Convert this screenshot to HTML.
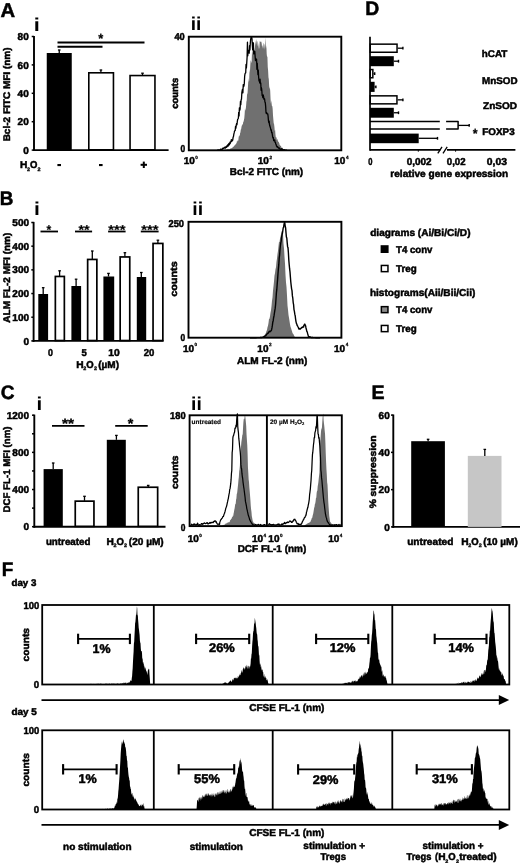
<!DOCTYPE html>
<html><head><meta charset="utf-8"><style>
html,body{margin:0;padding:0;background:#fff;width:520px;height:863px;overflow:hidden}
svg{display:block;will-change:transform}
text{font-family:"Liberation Sans", sans-serif;font-weight:bold;text-rendering:geometricPrecision}
</style></head><body>
<svg width="520" height="863" viewBox="0 0 520 863">
<rect width="520" height="863" fill="#fff"/>
<text x="0.50" y="16.60" font-size="20" textLength="14.64" lengthAdjust="spacingAndGlyphs" fill="#000" stroke="#000" stroke-width="0.5">A</text>
<text x="33.77" y="31.30" font-size="18.5" textLength="6.07" lengthAdjust="spacingAndGlyphs" fill="#000">i</text>
<line x1="34.00" y1="35.90" x2="34.00" y2="151.05" stroke="#000" stroke-width="1.9"/>
<line x1="33.05" y1="150.10" x2="168.60" y2="150.10" stroke="#000" stroke-width="1.9"/>
<line x1="31.70" y1="150.10" x2="34.00" y2="150.10" stroke="#000" stroke-width="1.5"/>
<text x="23.15" y="153.70" font-size="10" textLength="5.56" lengthAdjust="spacingAndGlyphs" fill="#000" stroke="#000" stroke-width="0.5">0</text>
<line x1="31.70" y1="121.70" x2="34.00" y2="121.70" stroke="#000" stroke-width="1.5"/>
<text x="17.59" y="125.30" font-size="10" textLength="11.12" lengthAdjust="spacingAndGlyphs" fill="#000" stroke="#000" stroke-width="0.5">20</text>
<line x1="31.70" y1="93.30" x2="34.00" y2="93.30" stroke="#000" stroke-width="1.5"/>
<text x="17.59" y="96.90" font-size="10" textLength="11.12" lengthAdjust="spacingAndGlyphs" fill="#000" stroke="#000" stroke-width="0.5">40</text>
<line x1="31.70" y1="64.90" x2="34.00" y2="64.90" stroke="#000" stroke-width="1.5"/>
<text x="17.59" y="68.50" font-size="10" textLength="11.12" lengthAdjust="spacingAndGlyphs" fill="#000" stroke="#000" stroke-width="0.5">60</text>
<line x1="31.70" y1="36.50" x2="34.00" y2="36.50" stroke="#000" stroke-width="1.5"/>
<text x="17.59" y="40.10" font-size="10" textLength="11.12" lengthAdjust="spacingAndGlyphs" fill="#000" stroke="#000" stroke-width="0.5">80</text>
<text x="0" y="0" font-size="9.6" textLength="93.97" lengthAdjust="spacingAndGlyphs" transform="translate(9.90 141.37) rotate(-90)" fill="#000" stroke="#000" stroke-width="0.5">Bcl-2 FITC MFI (nm)</text>
<rect x="46.75" y="53.00" width="25.00" height="97.10" fill="#000"/>
<rect x="88.80" y="72.80" width="24.65" height="77.00" fill="#fff" stroke="#000" stroke-width="1.6"/>
<rect x="130.05" y="75.55" width="24.90" height="74.25" fill="#fff" stroke="#000" stroke-width="1.6"/>
<line x1="59.25" y1="53.00" x2="59.25" y2="50.00" stroke="#000" stroke-width="1.3"/>
<line x1="57.95" y1="50.00" x2="60.55" y2="50.00" stroke="#000" stroke-width="1.3"/>
<line x1="100.90" y1="72.50" x2="100.90" y2="70.00" stroke="#000" stroke-width="1.3"/>
<line x1="99.60" y1="70.00" x2="102.20" y2="70.00" stroke="#000" stroke-width="1.3"/>
<line x1="142.50" y1="75.00" x2="142.50" y2="73.20" stroke="#000" stroke-width="1.3"/>
<line x1="141.20" y1="73.20" x2="143.80" y2="73.20" stroke="#000" stroke-width="1.3"/>
<line x1="57.50" y1="42.50" x2="144.50" y2="42.50" stroke="#000" stroke-width="1.8"/>
<line x1="57.50" y1="46.75" x2="102.50" y2="46.75" stroke="#000" stroke-width="1.8"/>
<text x="98.26" y="43.00" font-size="13.4" textLength="5.05" lengthAdjust="spacingAndGlyphs" fill="#000" stroke="#000" stroke-width="0.2">*</text>
<text x="19.92" y="168.30" font-size="10" textLength="7.37" lengthAdjust="spacingAndGlyphs" fill="#000" stroke="#000" stroke-width="0.5">H</text>
<text x="26.91" y="170.60" font-size="5.0" textLength="3.00" lengthAdjust="spacingAndGlyphs" fill="#000" stroke="#000" stroke-width="0.3">2</text>
<text x="29.91" y="168.30" font-size="10" textLength="7.39" lengthAdjust="spacingAndGlyphs" fill="#000" stroke="#000" stroke-width="0.5">O</text>
<text x="37.51" y="170.60" font-size="5.0" textLength="3.00" lengthAdjust="spacingAndGlyphs" fill="#000" stroke="#000" stroke-width="0.3">2</text>
<rect x="57.40" y="164.00" width="3.60" height="2.10" fill="#000"/>
<rect x="99.00" y="164.00" width="3.60" height="2.10" fill="#000"/>
<rect x="140.60" y="163.80" width="6.40" height="2.00" fill="#000"/>
<rect x="142.80" y="161.60" width="2.00" height="6.40" fill="#000"/>
<text x="190.77" y="29.70" font-size="18.5" textLength="10.58" lengthAdjust="spacingAndGlyphs" fill="#000">ii</text>
<text x="174.46" y="40.30" font-size="10" textLength="10.32" lengthAdjust="spacingAndGlyphs" fill="#000" stroke="#000" stroke-width="0.5">40</text>
<text x="180.57" y="152.30" font-size="10" textLength="4.68" lengthAdjust="spacingAndGlyphs" fill="#000" stroke="#000" stroke-width="0.5">0</text>
<text x="0" y="0" font-size="9.6" textLength="31.06" lengthAdjust="spacingAndGlyphs" transform="translate(177.60 108.77) rotate(-90)" fill="#000" stroke="#000" stroke-width="0.5">counts</text>
<path d="M224.00,150.30 L224.00,150.30 L224.35,150.23 L224.70,150.16 L225.05,150.09 L225.40,150.01 L225.75,149.78 L226.10,149.90 L226.45,149.70 L226.80,149.81 L227.15,149.77 L227.50,149.20 L227.85,149.06 L228.20,149.78 L228.55,149.13 L228.90,149.02 L229.25,149.78 L229.60,149.04 L229.95,149.30 L230.30,148.62 L230.65,148.65 L231.00,147.70 L231.35,148.24 L231.70,148.43 L232.05,147.64 L232.40,147.83 L232.75,147.50 L233.10,146.12 L233.45,147.27 L233.80,146.73 L234.15,145.91 L234.50,144.70 L234.85,146.02 L235.20,144.44 L235.55,144.47 L235.90,144.33 L236.25,143.26 L236.60,143.29 L236.95,141.04 L237.30,141.74 L237.65,139.93 L238.00,141.02 L238.35,140.23 L238.70,136.75 L239.05,136.11 L239.40,134.96 L239.75,136.66 L240.10,133.02 L240.45,132.48 L240.80,129.56 L241.15,129.14 L241.50,127.12 L241.85,125.52 L242.20,125.36 L242.55,123.97 L242.90,124.39 L243.25,121.76 L243.60,121.85 L243.95,119.68 L244.30,118.28 L244.65,113.96 L245.00,108.25 L245.35,110.68 L245.70,109.16 L246.05,106.48 L246.40,101.71 L246.75,100.36 L247.10,93.08 L247.45,94.70 L247.80,89.26 L248.15,83.43 L248.50,78.07 L248.85,81.94 L249.20,80.34 L249.55,69.06 L249.90,72.87 L250.25,66.21 L250.60,60.95 L250.95,60.24 L251.30,62.92 L251.65,61.92 L252.00,51.28 L252.35,55.10 L252.70,46.98 L253.05,52.23 L253.40,47.39 L253.75,52.60 L254.10,52.99 L254.45,47.16 L254.80,51.82 L255.15,43.62 L255.50,40.37 L255.85,45.40 L256.20,39.05 L256.55,41.23 L256.90,43.89 L257.25,46.46 L257.60,41.85 L257.95,40.96 L258.30,49.42 L258.65,42.66 L259.00,49.04 L259.35,47.68 L259.70,41.25 L260.05,41.46 L260.40,41.42 L260.75,42.11 L261.10,41.42 L261.45,42.23 L261.80,44.13 L262.15,48.87 L262.50,45.33 L262.85,45.73 L263.20,49.04 L263.55,43.19 L263.90,43.26 L264.25,50.06 L264.60,44.45 L264.95,44.14 L265.30,37.60 L265.65,44.54 L266.00,48.80 L266.35,45.30 L266.70,54.10 L267.05,57.09 L267.40,56.27 L267.75,66.96 L268.10,70.39 L268.45,77.37 L268.80,79.18 L269.15,85.74 L269.50,89.40 L269.85,86.90 L270.20,90.77 L270.55,99.08 L270.90,103.71 L271.25,100.13 L271.60,103.43 L271.95,106.18 L272.30,106.03 L272.65,108.85 L273.00,115.40 L273.35,119.45 L273.70,123.15 L274.05,123.94 L274.40,126.79 L274.75,131.02 L275.10,129.78 L275.45,134.48 L275.80,137.35 L276.15,137.26 L276.50,137.58 L276.85,140.30 L277.20,138.95 L277.55,139.43 L277.90,140.89 L278.25,142.35 L278.60,141.16 L278.95,142.47 L279.30,143.15 L279.65,145.12 L280.00,144.71 L280.35,146.33 L280.70,145.40 L281.05,146.24 L281.40,147.25 L281.75,148.05 L282.10,147.65 L282.45,147.69 L282.80,147.97 L283.15,148.93 L283.50,148.95 L283.85,149.84 L284.20,149.96 L284.55,149.56 L284.90,149.77 L285.25,150.04 L285.60,150.16 L285.95,150.28 L285.95,150.30 Z" fill="#707070" />
<path d="M217.00,150.30 L217.35,150.23 L217.70,150.16 L218.05,150.09 L218.40,150.02 L218.75,150.02 L219.10,150.04 L219.45,150.02 L219.80,150.07 L220.15,149.86 L220.50,149.95 L220.85,149.03 L221.20,149.29 L221.55,149.65 L221.90,149.21 L222.25,149.37 L222.60,148.28 L222.95,148.58 L223.30,148.14 L223.65,148.40 L224.00,148.31 L224.35,147.27 L224.70,147.37 L225.05,147.27 L225.40,148.14 L225.75,147.71 L226.10,146.45 L226.45,147.42 L226.80,145.99 L227.15,146.72 L227.50,145.55 L227.85,144.72 L228.20,146.10 L228.55,144.06 L228.90,143.52 L229.25,144.94 L229.60,144.18 L229.95,142.09 L230.30,143.47 L230.65,141.74 L231.00,141.65 L231.35,139.67 L231.70,141.48 L232.05,140.18 L232.40,140.60 L232.75,139.87 L233.10,137.29 L233.45,136.60 L233.80,134.42 L234.15,132.88 L234.50,131.09 L234.85,130.64 L235.20,130.56 L235.55,126.39 L235.90,128.15 L236.25,125.10 L236.60,123.53 L236.95,124.76 L237.30,121.60 L237.65,119.29 L238.00,118.79 L238.35,118.22 L238.70,112.36 L239.05,115.85 L239.40,107.90 L239.75,110.46 L240.10,109.08 L240.45,101.50 L240.80,104.69 L241.15,99.72 L241.50,99.10 L241.85,92.61 L242.20,90.50 L242.55,89.14 L242.90,92.82 L243.25,84.54 L243.60,86.71 L243.95,85.86 L244.30,83.71 L244.65,76.29 L245.00,73.97 L245.35,73.06 L245.70,72.92 L246.05,64.51 L246.40,67.97 L246.75,63.07 L247.10,57.14 L247.45,42.24 L247.80,55.83 L248.15,50.24 L248.50,50.93 L248.85,51.86 L249.20,53.21 L249.55,45.63 L249.90,49.84 L250.25,44.09 L250.60,39.75 L250.95,37.85 L251.30,37.02 L251.65,37.05 L252.00,38.85 L252.35,45.50 L252.70,49.90 L253.05,42.75 L253.40,43.02 L253.75,53.90 L254.10,50.83 L254.45,51.32 L254.80,51.42 L255.15,56.66 L255.50,60.64 L255.85,58.83 L256.20,60.46 L256.55,59.16 L256.90,69.23 L257.25,63.25 L257.60,69.54 L257.95,74.70 L258.30,70.26 L258.65,77.26 L259.00,80.85 L259.35,79.85 L259.70,82.91 L260.05,79.03 L260.40,83.51 L260.75,82.99 L261.10,90.31 L261.45,87.75 L261.80,90.23 L262.15,95.57 L262.50,95.58 L262.85,97.64 L263.20,94.88 L263.55,96.30 L263.90,99.21 L264.25,98.55 L264.60,99.00 L264.95,102.06 L265.30,102.58 L265.65,106.39 L266.00,112.34 L266.35,113.52 L266.70,112.82 L267.05,113.44 L267.40,113.90 L267.75,113.88 L268.10,116.39 L268.45,120.68 L268.80,122.51 L269.15,121.16 L269.50,124.79 L269.85,126.09 L270.20,127.06 L270.55,128.28 L270.90,130.10 L271.25,129.69 L271.60,132.58 L271.95,132.19 L272.30,134.44 L272.65,136.92 L273.00,137.99 L273.35,137.55 L273.70,140.55 L274.05,140.33 L274.40,140.89 L274.75,139.98 L275.10,142.36 L275.45,142.35 L275.80,144.25 L276.15,144.51 L276.50,146.10 L276.85,146.49 L277.20,147.10 L277.55,146.50 L277.90,147.30 L278.25,147.71 L278.60,148.10 L278.95,147.58 L279.30,148.59 L279.65,148.86 L280.00,148.85 L280.35,149.32 L280.70,149.39 L281.05,148.98 L281.40,149.11 L281.75,148.85 L282.10,149.65 L282.45,149.85 L282.80,149.54 L283.15,149.83 L283.50,149.96 L283.85,150.00 L284.20,149.69 L284.55,150.12 L284.90,150.00 L285.25,150.05 L285.60,150.10 L285.95,150.15 L286.30,150.20 L286.65,150.25 L287.00,150.30" fill="none" stroke="#000" stroke-width="1.3" stroke-linejoin="round" />
<rect x="188.80" y="36.70" width="152.50" height="113.60" fill="none" stroke="#000" stroke-width="1.9"/>
<text x="183.67" y="164.00" font-size="10" stroke="#000" stroke-width="0.5">10<tspan font-size="4.6" dx="0.5" dy="-5.40" stroke-width="0.25">0</tspan></text>
<text x="257.77" y="164.00" font-size="10" stroke="#000" stroke-width="0.5">10<tspan font-size="4.6" dx="0.5" dy="-5.40" stroke-width="0.25">2</tspan></text>
<text x="334.27" y="164.00" font-size="10" stroke="#000" stroke-width="0.5">10<tspan font-size="4.6" dx="0.5" dy="-5.40" stroke-width="0.25">4</tspan></text>
<text x="229.73" y="174.60" font-size="10" textLength="73.46" lengthAdjust="spacingAndGlyphs" fill="#000" stroke="#000" stroke-width="0.5">Bcl-2 FITC (nm)</text>
<text x="365.20" y="14.80" font-size="19.5" textLength="14.01" lengthAdjust="spacingAndGlyphs" fill="#000" stroke="#000" stroke-width="0.5">D</text>
<line x1="370.00" y1="36.70" x2="370.00" y2="150.80" stroke="#000" stroke-width="1.7"/>
<line x1="370.00" y1="149.90" x2="440.50" y2="149.90" stroke="#000" stroke-width="1.8"/>
<line x1="447.00" y1="149.90" x2="515.40" y2="149.90" stroke="#000" stroke-width="1.8"/>
<line x1="437.80" y1="153.30" x2="442.00" y2="146.80" stroke="#000" stroke-width="1.3"/>
<line x1="443.00" y1="153.30" x2="447.20" y2="146.80" stroke="#000" stroke-width="1.3"/>
<line x1="418.30" y1="149.90" x2="418.30" y2="151.70" stroke="#000" stroke-width="1.0"/>
<line x1="455.60" y1="149.90" x2="455.60" y2="151.70" stroke="#000" stroke-width="1.0"/>
<rect x="370.25" y="44.15" width="26.80" height="8.10" fill="#fff" stroke="#000" stroke-width="1.5"/>
<line x1="397.80" y1="48.20" x2="403.00" y2="48.20" stroke="#000" stroke-width="1.3"/>
<line x1="402.90" y1="46.80" x2="402.90" y2="49.60" stroke="#000" stroke-width="1.4"/>
<rect x="370.00" y="56.20" width="23.80" height="10.00" fill="#000"/>
<line x1="393.80" y1="61.20" x2="398.60" y2="61.20" stroke="#000" stroke-width="1.3"/>
<line x1="398.50" y1="59.80" x2="398.50" y2="62.60" stroke="#000" stroke-width="1.4"/>
<rect x="370.25" y="69.55" width="2.60" height="8.20" fill="#fff" stroke="#000" stroke-width="1.5"/>
<line x1="373.60" y1="73.65" x2="374.80" y2="73.65" stroke="#000" stroke-width="1.3"/>
<line x1="374.70" y1="72.25" x2="374.70" y2="75.05" stroke="#000" stroke-width="1.4"/>
<rect x="370.00" y="81.80" width="4.60" height="10.10" fill="#000"/>
<line x1="374.60" y1="86.85" x2="376.00" y2="86.85" stroke="#000" stroke-width="1.3"/>
<line x1="375.90" y1="85.45" x2="375.90" y2="88.25" stroke="#000" stroke-width="1.4"/>
<rect x="370.25" y="95.85" width="26.70" height="8.00" fill="#fff" stroke="#000" stroke-width="1.5"/>
<line x1="397.70" y1="99.85" x2="403.00" y2="99.85" stroke="#000" stroke-width="1.3"/>
<line x1="402.90" y1="98.45" x2="402.90" y2="101.25" stroke="#000" stroke-width="1.4"/>
<rect x="370.00" y="107.80" width="23.80" height="9.90" fill="#000"/>
<line x1="393.80" y1="112.75" x2="398.60" y2="112.75" stroke="#000" stroke-width="1.3"/>
<line x1="398.50" y1="111.35" x2="398.50" y2="114.15" stroke="#000" stroke-width="1.4"/>
<path d="M370.0,121.6 L439.8,121.6 M370.0,129.1 L439.8,129.1 M446.1,121.6 L458.1,121.6 L458.1,129.1 L446.1,129.1" fill="none" stroke="#000" stroke-width="1.5" stroke-linejoin="round" />
<line x1="458.10" y1="125.40" x2="469.30" y2="125.40" stroke="#000" stroke-width="1.3"/>
<line x1="469.20" y1="124.00" x2="469.20" y2="126.80" stroke="#000" stroke-width="1.4"/>
<rect x="370.00" y="133.60" width="48.70" height="9.60" fill="#000"/>
<line x1="418.70" y1="138.30" x2="437.60" y2="138.30" stroke="#000" stroke-width="1.3"/>
<line x1="437.50" y1="136.90" x2="437.50" y2="139.70" stroke="#000" stroke-width="1.4"/>
<text x="481.83" y="57.20" font-size="9.7" textLength="25.57" lengthAdjust="spacingAndGlyphs" fill="#000" stroke="#000" stroke-width="0.5">hCAT</text>
<text x="482.14" y="83.50" font-size="9.7" textLength="35.47" lengthAdjust="spacingAndGlyphs" fill="#000" stroke="#000" stroke-width="0.5">MnSOD</text>
<text x="483.00" y="109.20" font-size="9.7" textLength="34.02" lengthAdjust="spacingAndGlyphs" fill="#000" stroke="#000" stroke-width="0.5">ZnSOD</text>
<text x="482.34" y="134.70" font-size="9.7" textLength="32.32" lengthAdjust="spacingAndGlyphs" fill="#000" stroke="#000" stroke-width="0.5">FOXP3</text>
<text x="472.76" y="137.50" font-size="13.4" textLength="4.85" lengthAdjust="spacingAndGlyphs" fill="#000" stroke="#000" stroke-width="0.2">*</text>
<text x="368.20" y="164.80" font-size="10" textLength="4.21" lengthAdjust="spacingAndGlyphs" fill="#000" stroke="#000" stroke-width="0.5">0</text>
<text x="406.71" y="164.80" font-size="10" textLength="24.89" lengthAdjust="spacingAndGlyphs" fill="#000" stroke="#000" stroke-width="0.5">0,002</text>
<text x="446.82" y="164.80" font-size="10" textLength="18.77" lengthAdjust="spacingAndGlyphs" fill="#000" stroke="#000" stroke-width="0.5">0,02</text>
<text x="486.79" y="164.80" font-size="10" textLength="20.18" lengthAdjust="spacingAndGlyphs" fill="#000" stroke="#000" stroke-width="0.5">0,03</text>
<text x="390.33" y="176.70" font-size="10" textLength="117.79" lengthAdjust="spacingAndGlyphs" fill="#000" stroke="#000" stroke-width="0.5">relative gene expression</text>
<text x="-0.26" y="204.50" font-size="19.5" textLength="13.62" lengthAdjust="spacingAndGlyphs" fill="#000" stroke="#000" stroke-width="0.5">B</text>
<text x="34.02" y="215.40" font-size="18.5" textLength="5.87" lengthAdjust="spacingAndGlyphs" fill="#000">i</text>
<line x1="33.60" y1="221.90" x2="33.60" y2="341.85" stroke="#000" stroke-width="1.9"/>
<line x1="32.65" y1="340.90" x2="163.50" y2="340.90" stroke="#000" stroke-width="1.9"/>
<line x1="31.30" y1="340.90" x2="33.60" y2="340.90" stroke="#000" stroke-width="1.5"/>
<text x="23.45" y="344.50" font-size="10" textLength="5.56" lengthAdjust="spacingAndGlyphs" fill="#000" stroke="#000" stroke-width="0.5">0</text>
<line x1="31.30" y1="317.22" x2="33.60" y2="317.22" stroke="#000" stroke-width="1.5"/>
<text x="12.33" y="320.82" font-size="10" textLength="16.68" lengthAdjust="spacingAndGlyphs" fill="#000" stroke="#000" stroke-width="0.5">100</text>
<line x1="31.30" y1="293.54" x2="33.60" y2="293.54" stroke="#000" stroke-width="1.5"/>
<text x="12.33" y="297.14" font-size="10" textLength="16.68" lengthAdjust="spacingAndGlyphs" fill="#000" stroke="#000" stroke-width="0.5">200</text>
<line x1="31.30" y1="269.86" x2="33.60" y2="269.86" stroke="#000" stroke-width="1.5"/>
<text x="12.33" y="273.46" font-size="10" textLength="16.68" lengthAdjust="spacingAndGlyphs" fill="#000" stroke="#000" stroke-width="0.5">300</text>
<line x1="31.30" y1="246.18" x2="33.60" y2="246.18" stroke="#000" stroke-width="1.5"/>
<text x="12.33" y="249.78" font-size="10" textLength="16.68" lengthAdjust="spacingAndGlyphs" fill="#000" stroke="#000" stroke-width="0.5">400</text>
<line x1="31.30" y1="222.50" x2="33.60" y2="222.50" stroke="#000" stroke-width="1.5"/>
<text x="12.33" y="226.10" font-size="10" textLength="16.68" lengthAdjust="spacingAndGlyphs" fill="#000" stroke="#000" stroke-width="0.5">500</text>
<text x="0" y="0" font-size="9.6" textLength="89.95" lengthAdjust="spacingAndGlyphs" transform="translate(9.90 322.65) rotate(-90)" fill="#000" stroke="#000" stroke-width="0.5">ALM FL-2 MFI (nm)</text>
<rect x="38.30" y="294.00" width="9.80" height="46.90" fill="#000"/>
<line x1="43.20" y1="294.00" x2="43.20" y2="287.70" stroke="#000" stroke-width="1.3"/>
<line x1="41.90" y1="287.70" x2="44.50" y2="287.70" stroke="#000" stroke-width="1.3"/>
<rect x="55.35" y="276.45" width="9.00" height="64.10" fill="#fff" stroke="#000" stroke-width="1.7"/>
<line x1="59.60" y1="276.10" x2="59.60" y2="270.80" stroke="#000" stroke-width="1.3"/>
<line x1="58.30" y1="270.80" x2="60.90" y2="270.80" stroke="#000" stroke-width="1.3"/>
<rect x="71.40" y="286.00" width="9.70" height="54.90" fill="#000"/>
<line x1="76.10" y1="286.00" x2="76.10" y2="279.20" stroke="#000" stroke-width="1.3"/>
<line x1="74.80" y1="279.20" x2="77.40" y2="279.20" stroke="#000" stroke-width="1.3"/>
<rect x="87.65" y="259.45" width="9.20" height="81.10" fill="#fff" stroke="#000" stroke-width="1.7"/>
<line x1="92.30" y1="259.10" x2="92.30" y2="251.00" stroke="#000" stroke-width="1.3"/>
<line x1="91.00" y1="251.00" x2="93.60" y2="251.00" stroke="#000" stroke-width="1.3"/>
<rect x="103.40" y="276.50" width="10.80" height="64.40" fill="#000"/>
<line x1="108.50" y1="276.50" x2="108.50" y2="273.40" stroke="#000" stroke-width="1.3"/>
<line x1="107.20" y1="273.40" x2="109.80" y2="273.40" stroke="#000" stroke-width="1.3"/>
<rect x="120.15" y="256.95" width="9.60" height="83.60" fill="#fff" stroke="#000" stroke-width="1.7"/>
<line x1="124.90" y1="256.60" x2="124.90" y2="252.70" stroke="#000" stroke-width="1.3"/>
<line x1="123.60" y1="252.70" x2="126.20" y2="252.70" stroke="#000" stroke-width="1.3"/>
<rect x="136.80" y="277.00" width="9.40" height="63.90" fill="#000"/>
<line x1="141.30" y1="277.00" x2="141.30" y2="272.50" stroke="#000" stroke-width="1.3"/>
<line x1="140.00" y1="272.50" x2="142.60" y2="272.50" stroke="#000" stroke-width="1.3"/>
<rect x="153.05" y="243.45" width="9.80" height="97.10" fill="#fff" stroke="#000" stroke-width="1.7"/>
<line x1="157.90" y1="243.10" x2="157.90" y2="240.20" stroke="#000" stroke-width="1.3"/>
<line x1="156.60" y1="240.20" x2="159.20" y2="240.20" stroke="#000" stroke-width="1.3"/>
<line x1="40.50" y1="231.50" x2="58.00" y2="231.50" stroke="#000" stroke-width="1.8"/>
<text x="46.56" y="234.30" font-size="12.6" textLength="4.75" lengthAdjust="spacingAndGlyphs" fill="#000" stroke="#000" stroke-width="0.2">*</text>
<line x1="75.00" y1="231.50" x2="92.10" y2="231.50" stroke="#000" stroke-width="1.8"/>
<text x="78.56" y="234.30" font-size="12.6" textLength="11.16" lengthAdjust="spacingAndGlyphs" fill="#000" stroke="#000" stroke-width="0.2">**</text>
<line x1="108.10" y1="231.50" x2="125.60" y2="231.50" stroke="#000" stroke-width="1.8"/>
<text x="108.36" y="234.30" font-size="12.6" textLength="17.26" lengthAdjust="spacingAndGlyphs" fill="#000" stroke="#000" stroke-width="0.2">***</text>
<line x1="140.80" y1="231.50" x2="158.60" y2="231.50" stroke="#000" stroke-width="1.8"/>
<text x="141.16" y="234.30" font-size="12.6" textLength="17.26" lengthAdjust="spacingAndGlyphs" fill="#000" stroke="#000" stroke-width="0.2">***</text>
<text x="47.95" y="355.50" font-size="10" textLength="4.91" lengthAdjust="spacingAndGlyphs" fill="#000" stroke="#000" stroke-width="0.5">0</text>
<text x="81.41" y="355.50" font-size="10" textLength="5.25" lengthAdjust="spacingAndGlyphs" fill="#000" stroke="#000" stroke-width="0.5">5</text>
<text x="108.35" y="355.50" font-size="10" textLength="11.47" lengthAdjust="spacingAndGlyphs" fill="#000" stroke="#000" stroke-width="0.5">10</text>
<text x="143.77" y="355.50" font-size="10" textLength="10.62" lengthAdjust="spacingAndGlyphs" fill="#000" stroke="#000" stroke-width="0.5">20</text>
<text x="76.32" y="368.00" font-size="10" textLength="7.37" lengthAdjust="spacingAndGlyphs" fill="#000" stroke="#000" stroke-width="0.5">H</text>
<text x="83.31" y="370.30" font-size="5.0" textLength="3.00" lengthAdjust="spacingAndGlyphs" fill="#000" stroke="#000" stroke-width="0.3">2</text>
<text x="86.31" y="368.00" font-size="10" textLength="7.39" lengthAdjust="spacingAndGlyphs" fill="#000" stroke="#000" stroke-width="0.5">O</text>
<text x="93.91" y="370.30" font-size="5.0" textLength="3.00" lengthAdjust="spacingAndGlyphs" fill="#000" stroke="#000" stroke-width="0.3">2</text>
<text x="98.25" y="368.00" font-size="10" textLength="20.75" lengthAdjust="spacingAndGlyphs" fill="#000" stroke="#000" stroke-width="0.5">(µM)</text>
<text x="192.24" y="215.10" font-size="18.5" textLength="10.84" lengthAdjust="spacingAndGlyphs" fill="#000">ii</text>
<text x="168.48" y="226.50" font-size="10" textLength="15.50" lengthAdjust="spacingAndGlyphs" fill="#000" stroke="#000" stroke-width="0.5">250</text>
<text x="180.57" y="341.20" font-size="10" textLength="4.68" lengthAdjust="spacingAndGlyphs" fill="#000" stroke="#000" stroke-width="0.5">0</text>
<text x="0" y="0" font-size="9.6" textLength="35.57" lengthAdjust="spacingAndGlyphs" transform="translate(177.40 296.82) rotate(-90)" fill="#000" stroke="#000" stroke-width="0.5">counts</text>
<path d="M258.00,337.70 L258.00,337.70 L258.50,337.70 L259.00,337.70 L259.50,337.67 L260.00,337.59 L260.50,337.51 L261.00,337.43 L261.50,337.34 L262.00,337.30 L262.50,337.36 L263.00,337.11 L263.50,337.05 L264.00,336.64 L264.50,335.31 L265.00,334.54 L265.50,333.64 L266.00,332.82 L266.50,330.89 L267.00,330.12 L267.50,327.15 L268.00,325.85 L268.50,323.10 L269.00,319.11 L269.50,318.72 L270.00,316.18 L270.50,312.85 L271.00,310.19 L271.50,306.29 L272.00,300.79 L272.50,297.46 L273.00,290.82 L273.50,286.26 L274.00,281.44 L274.50,275.55 L275.00,273.23 L275.50,269.22 L276.00,267.14 L276.50,261.78 L277.00,258.46 L277.50,253.90 L278.00,250.81 L278.50,246.28 L279.00,241.85 L279.50,242.13 L280.00,238.67 L280.50,236.48 L281.00,234.40 L281.50,230.89 L282.00,231.79 L282.50,233.49 L283.00,233.69 L283.50,243.72 L284.00,248.17 L284.50,256.68 L285.00,263.44 L285.50,274.88 L286.00,282.51 L286.50,286.96 L287.00,295.53 L287.50,305.49 L288.00,309.67 L288.50,315.08 L289.00,317.67 L289.50,321.10 L290.00,324.35 L290.50,326.70 L291.00,327.92 L291.50,329.81 L292.00,331.24 L292.50,333.09 L293.00,333.87 L293.50,334.30 L294.00,335.53 L294.50,336.58 L295.00,336.92 L295.50,337.35 L296.00,337.27 L296.50,337.50 L297.00,337.64 L297.50,337.70 L298.00,337.70 L298.00,337.70 Z" fill="#707070" />
<path d="M250.00,337.70 L250.40,337.70 L250.80,337.70 L251.20,337.70 L251.60,337.70 L252.00,337.70 L252.40,337.70 L252.80,337.70 L253.20,337.70 L253.60,337.70 L254.00,337.70 L254.40,337.70 L254.80,337.70 L255.20,337.70 L255.60,337.70 L256.00,337.70 L256.40,337.69 L256.80,337.67 L257.20,337.66 L257.60,337.65 L258.00,337.63 L258.40,337.62 L258.80,337.61 L259.20,337.59 L259.60,337.58 L260.00,337.57 L260.40,337.55 L260.80,337.54 L261.20,337.53 L261.60,337.51 L262.00,337.50 L262.40,337.26 L262.80,337.20 L263.20,337.03 L263.60,336.93 L264.00,336.49 L264.40,336.32 L264.80,336.10 L265.20,335.95 L265.60,335.90 L266.00,335.08 L266.40,334.87 L266.80,334.18 L267.20,333.76 L267.60,333.41 L268.00,333.29 L268.40,332.75 L268.80,331.86 L269.20,331.76 L269.60,331.28 L270.00,331.66 L270.40,331.26 L270.80,330.93 L271.20,330.61 L271.60,329.70 L272.00,327.68 L272.40,325.18 L272.80,322.05 L273.20,320.69 L273.60,317.75 L274.00,315.93 L274.40,313.25 L274.80,310.65 L275.20,308.17 L275.60,304.46 L276.00,298.80 L276.40,292.90 L276.80,289.45 L277.20,284.08 L277.60,279.34 L278.00,273.66 L278.40,268.62 L278.80,264.68 L279.20,257.92 L279.60,255.25 L280.00,249.79 L280.40,245.77 L280.80,242.85 L281.20,241.09 L281.60,237.01 L282.00,234.84 L282.40,233.54 L282.80,230.79 L283.20,227.79 L283.60,227.39 L284.00,224.42 L284.40,222.52 L284.80,222.73 L285.20,226.12 L285.60,227.57 L286.00,232.62 L286.40,237.08 L286.80,238.05 L287.20,242.60 L287.60,246.66 L288.00,247.62 L288.40,252.75 L288.80,259.88 L289.20,264.68 L289.60,268.70 L290.00,271.86 L290.40,277.11 L290.80,282.01 L291.20,285.55 L291.60,288.80 L292.00,290.65 L292.40,295.90 L292.80,298.19 L293.20,302.54 L293.60,304.72 L294.00,309.60 L294.40,311.36 L294.80,314.15 L295.20,315.75 L295.60,319.05 L296.00,321.55 L296.40,323.35 L296.80,324.02 L297.20,325.56 L297.60,326.00 L298.00,326.79 L298.40,327.49 L298.80,328.97 L299.20,329.16 L299.60,329.00 L300.00,328.54 L300.40,328.94 L300.80,328.56 L301.20,328.26 L301.60,327.39 L302.00,327.76 L302.40,327.50 L302.80,327.05 L303.20,326.50 L303.60,327.12 L304.00,325.23 L304.40,324.77 L304.80,324.01 L305.20,324.94 L305.60,325.83 L306.00,327.96 L306.40,329.45 L306.80,331.32 L307.20,331.81 L307.60,333.44 L308.00,334.87 L308.40,336.41 L308.80,336.61 L309.20,336.72 L309.60,336.93 L310.00,336.93 L310.40,336.99 L310.80,337.27 L311.20,337.49 L311.60,337.50 L312.00,337.52 L312.40,337.54 L312.80,337.56 L313.20,337.58 L313.60,337.60 L314.00,337.62 L314.40,337.64 L314.80,337.66 L315.20,337.67 L315.60,337.69 L316.00,337.70 L316.40,337.70 L316.80,337.70 L317.20,337.70 L317.60,337.70 L318.00,337.70 L318.40,337.70 L318.80,337.70 L319.20,337.70 L319.60,337.70 L320.00,337.70" fill="none" stroke="#000" stroke-width="1.4" stroke-linejoin="round" />
<rect x="188.50" y="221.80" width="152.90" height="115.90" fill="none" stroke="#000" stroke-width="1.9"/>
<text x="182.97" y="351.60" font-size="10" stroke="#000" stroke-width="0.5">10<tspan font-size="4.6" dx="0.5" dy="-5.40" stroke-width="0.25">0</tspan></text>
<text x="257.37" y="351.60" font-size="10" stroke="#000" stroke-width="0.5">10<tspan font-size="4.6" dx="0.5" dy="-5.40" stroke-width="0.25">2</tspan></text>
<text x="334.07" y="351.60" font-size="10" stroke="#000" stroke-width="0.5">10<tspan font-size="4.6" dx="0.5" dy="-5.40" stroke-width="0.25">4</tspan></text>
<text x="236.95" y="363.80" font-size="10" textLength="70.35" lengthAdjust="spacingAndGlyphs" fill="#000" stroke="#000" stroke-width="0.5">ALM FL-2 (nm)</text>
<text x="370.19" y="235.50" font-size="10" textLength="100.32" lengthAdjust="spacingAndGlyphs" fill="#000" stroke="#000" stroke-width="0.5">diagrams (Ai/Bi/Ci/D)</text>
<rect x="380.60" y="245.20" width="8.00" height="7.80" fill="#000"/>
<rect x="381.35" y="265.45" width="6.60" height="6.20" fill="#fff" stroke="#000" stroke-width="1.5"/>
<text x="396.09" y="252.80" font-size="10" textLength="36.35" lengthAdjust="spacingAndGlyphs" fill="#000" stroke="#000" stroke-width="0.5">T4 conv</text>
<text x="396.09" y="272.20" font-size="10" textLength="20.75" lengthAdjust="spacingAndGlyphs" fill="#000" stroke="#000" stroke-width="0.5">Treg</text>
<text x="369.90" y="296.00" font-size="10" textLength="105.41" lengthAdjust="spacingAndGlyphs" fill="#000" stroke="#000" stroke-width="0.5">histograms(Aii/Bii/Cii)</text>
<rect x="381.35" y="306.65" width="6.60" height="6.00" fill="#8a8a8a" stroke="#000" stroke-width="1.5"/>
<rect x="381.35" y="325.45" width="6.60" height="6.20" fill="#fff" stroke="#000" stroke-width="1.5"/>
<text x="396.09" y="313.00" font-size="10" textLength="36.35" lengthAdjust="spacingAndGlyphs" fill="#000" stroke="#000" stroke-width="0.5">T4 conv</text>
<text x="396.09" y="332.20" font-size="10" textLength="20.75" lengthAdjust="spacingAndGlyphs" fill="#000" stroke="#000" stroke-width="0.5">Treg</text>
<text x="0.72" y="398.50" font-size="19.5" textLength="13.81" lengthAdjust="spacingAndGlyphs" fill="#000" stroke="#000" stroke-width="0.5">C</text>
<text x="36.58" y="410.10" font-size="18.5" textLength="5.67" lengthAdjust="spacingAndGlyphs" fill="#000">i</text>
<line x1="34.30" y1="414.60" x2="34.30" y2="527.65" stroke="#000" stroke-width="1.9"/>
<line x1="33.35" y1="526.70" x2="165.50" y2="526.70" stroke="#000" stroke-width="1.9"/>
<line x1="32.00" y1="526.70" x2="34.30" y2="526.70" stroke="#000" stroke-width="1.5"/>
<text x="23.45" y="530.30" font-size="10" textLength="5.56" lengthAdjust="spacingAndGlyphs" fill="#000" stroke="#000" stroke-width="0.5">0</text>
<line x1="32.00" y1="508.12" x2="34.30" y2="508.12" stroke="#000" stroke-width="1.5"/>
<line x1="32.00" y1="489.53" x2="34.30" y2="489.53" stroke="#000" stroke-width="1.5"/>
<text x="12.33" y="493.13" font-size="10" textLength="16.68" lengthAdjust="spacingAndGlyphs" fill="#000" stroke="#000" stroke-width="0.5">400</text>
<line x1="32.00" y1="470.95" x2="34.30" y2="470.95" stroke="#000" stroke-width="1.5"/>
<line x1="32.00" y1="452.37" x2="34.30" y2="452.37" stroke="#000" stroke-width="1.5"/>
<text x="12.33" y="455.97" font-size="10" textLength="16.68" lengthAdjust="spacingAndGlyphs" fill="#000" stroke="#000" stroke-width="0.5">800</text>
<line x1="32.00" y1="433.78" x2="34.30" y2="433.78" stroke="#000" stroke-width="1.5"/>
<line x1="32.00" y1="415.20" x2="34.30" y2="415.20" stroke="#000" stroke-width="1.5"/>
<text x="6.76" y="418.80" font-size="10" textLength="22.25" lengthAdjust="spacingAndGlyphs" fill="#000" stroke="#000" stroke-width="0.5">1200</text>
<text x="0" y="0" font-size="9.6" textLength="85.93" lengthAdjust="spacingAndGlyphs" transform="translate(9.90 512.45) rotate(-90)" fill="#000" stroke="#000" stroke-width="0.5">DCF FL-1 MFI (nm)</text>
<rect x="43.60" y="469.10" width="19.20" height="57.60" fill="#000"/>
<line x1="53.20" y1="469.10" x2="53.20" y2="463.00" stroke="#000" stroke-width="1.3"/>
<line x1="51.90" y1="463.00" x2="54.50" y2="463.00" stroke="#000" stroke-width="1.3"/>
<rect x="75.25" y="501.15" width="18.70" height="25.20" fill="#fff" stroke="#000" stroke-width="1.7"/>
<line x1="84.50" y1="500.80" x2="84.50" y2="496.30" stroke="#000" stroke-width="1.3"/>
<line x1="83.20" y1="496.30" x2="85.80" y2="496.30" stroke="#000" stroke-width="1.3"/>
<rect x="106.80" y="439.80" width="19.00" height="86.90" fill="#000"/>
<line x1="116.40" y1="439.80" x2="116.40" y2="435.40" stroke="#000" stroke-width="1.3"/>
<line x1="115.10" y1="435.40" x2="117.70" y2="435.40" stroke="#000" stroke-width="1.3"/>
<rect x="138.25" y="487.25" width="19.40" height="39.10" fill="#fff" stroke="#000" stroke-width="1.7"/>
<line x1="148.20" y1="486.90" x2="148.20" y2="485.40" stroke="#000" stroke-width="1.3"/>
<line x1="146.90" y1="485.40" x2="149.50" y2="485.40" stroke="#000" stroke-width="1.3"/>
<line x1="52.00" y1="425.80" x2="84.50" y2="425.80" stroke="#000" stroke-width="1.8"/>
<text x="62.05" y="427.90" font-size="13.5" textLength="12.06" lengthAdjust="spacingAndGlyphs" fill="#000" stroke="#000" stroke-width="0.3">**</text>
<line x1="115.20" y1="425.80" x2="147.70" y2="425.80" stroke="#000" stroke-width="1.8"/>
<text x="127.76" y="427.90" font-size="13.5" textLength="5.56" lengthAdjust="spacingAndGlyphs" fill="#000" stroke="#000" stroke-width="0.3">*</text>
<text x="45.89" y="545.30" font-size="10" textLength="44.55" lengthAdjust="spacingAndGlyphs" fill="#000" stroke="#000" stroke-width="0.5">untreated</text>
<text x="106.52" y="545.10" font-size="10" textLength="7.37" lengthAdjust="spacingAndGlyphs" fill="#000" stroke="#000" stroke-width="0.5">H</text>
<text x="113.51" y="547.40" font-size="5.0" textLength="3.00" lengthAdjust="spacingAndGlyphs" fill="#000" stroke="#000" stroke-width="0.3">2</text>
<text x="116.51" y="545.10" font-size="10" textLength="7.39" lengthAdjust="spacingAndGlyphs" fill="#000" stroke="#000" stroke-width="0.5">O</text>
<text x="124.11" y="547.40" font-size="5.0" textLength="3.00" lengthAdjust="spacingAndGlyphs" fill="#000" stroke="#000" stroke-width="0.3">2</text>
<text x="128.80" y="545.10" font-size="10" textLength="34.90" lengthAdjust="spacingAndGlyphs" fill="#000" stroke="#000" stroke-width="0.5">(20 µM)</text>
<text x="191.05" y="410.30" font-size="18.5" textLength="10.71" lengthAdjust="spacingAndGlyphs" fill="#000">ii</text>
<text x="170.11" y="419.20" font-size="10" textLength="15.57" lengthAdjust="spacingAndGlyphs" fill="#000" stroke="#000" stroke-width="0.5">180</text>
<text x="180.67" y="530.60" font-size="10" textLength="4.68" lengthAdjust="spacingAndGlyphs" fill="#000" stroke="#000" stroke-width="0.5">0</text>
<text x="0" y="0" font-size="9.6" textLength="33.62" lengthAdjust="spacingAndGlyphs" transform="translate(178.30 489.10) rotate(-90)" fill="#000" stroke="#000" stroke-width="0.5">counts</text>
<path d="M221.00,526.10 L221.00,526.10 L221.35,526.10 L221.70,526.10 L222.05,525.92 L222.40,525.61 L222.75,525.60 L223.10,525.40 L223.45,525.13 L223.80,524.78 L224.15,524.93 L224.50,524.75 L224.85,524.36 L225.20,524.15 L225.55,523.75 L225.90,523.35 L226.25,523.45 L226.60,523.43 L226.95,522.76 L227.30,523.24 L227.65,522.50 L228.00,522.30 L228.35,521.89 L228.70,522.69 L229.05,522.23 L229.40,522.19 L229.75,521.65 L230.10,520.35 L230.45,520.09 L230.80,519.71 L231.15,518.57 L231.50,519.18 L231.85,517.71 L232.20,516.77 L232.55,517.23 L232.90,515.48 L233.25,516.10 L233.60,513.51 L233.95,511.95 L234.30,509.76 L234.65,508.32 L235.00,505.86 L235.35,503.71 L235.70,504.04 L236.05,499.83 L236.40,498.45 L236.75,493.90 L237.10,493.35 L237.45,490.29 L237.80,486.98 L238.15,483.82 L238.50,479.83 L238.85,477.04 L239.20,471.34 L239.55,469.35 L239.90,465.48 L240.25,455.98 L240.60,452.45 L240.95,447.44 L241.30,442.79 L241.65,440.15 L242.00,437.86 L242.35,434.81 L242.70,434.50 L243.05,427.77 L243.40,422.26 L243.75,419.01 L244.10,419.34 L244.45,418.16 L244.80,414.98 L245.15,415.83 L245.50,418.22 L245.85,422.02 L246.20,425.88 L246.55,434.60 L246.90,439.63 L247.25,445.02 L247.60,453.73 L247.95,467.33 L248.30,472.73 L248.65,479.56 L249.00,482.10 L249.35,487.62 L249.70,491.35 L250.05,495.46 L250.40,500.11 L250.75,505.87 L251.10,509.22 L251.45,511.85 L251.80,515.92 L252.15,517.63 L252.50,519.66 L252.85,521.41 L253.20,521.69 L253.55,522.65 L253.90,522.94 L254.25,522.90 L254.60,523.51 L254.95,523.49 L255.30,523.73 L255.65,523.99 L256.00,524.77 L256.35,524.65 L256.70,524.98 L257.05,525.67 L257.40,525.90 L257.75,526.10 L257.75,526.10 Z" fill="#707070" />
<path d="M190.50,525.06 L190.85,525.31 L191.20,525.05 L191.55,524.19 L191.90,524.54 L192.25,524.77 L192.60,525.05 L192.95,524.88 L193.30,524.98 L193.65,524.77 L194.00,523.83 L194.35,524.33 L194.70,524.20 L195.05,524.15 L195.40,524.98 L195.75,524.97 L196.10,524.84 L196.45,524.60 L196.80,524.79 L197.15,524.29 L197.50,523.18 L197.85,523.68 L198.20,524.47 L198.55,525.20 L198.90,525.33 L199.25,524.79 L199.60,524.69 L199.95,524.83 L200.30,524.96 L200.65,524.85 L201.00,524.34 L201.35,523.69 L201.70,523.54 L202.05,523.60 L202.40,524.36 L202.75,524.25 L203.10,523.96 L203.45,523.38 L203.80,523.46 L204.15,523.30 L204.50,522.86 L204.85,523.19 L205.20,523.51 L205.55,523.58 L205.90,523.53 L206.25,523.28 L206.60,522.94 L206.95,522.60 L207.30,522.71 L207.65,523.37 L208.00,524.04 L208.35,523.57 L208.70,523.51 L209.05,523.24 L209.40,523.28 L209.75,522.53 L210.10,522.47 L210.45,523.16 L210.80,522.98 L211.15,522.38 L211.50,522.62 L211.85,522.75 L212.20,522.37 L212.55,522.43 L212.90,522.19 L213.25,522.58 L213.60,521.67 L213.95,521.57 L214.30,521.01 L214.65,521.36 L215.00,521.07 L215.35,520.81 L215.70,521.23 L216.05,522.44 L216.40,521.89 L216.75,523.02 L217.10,523.86 L217.45,523.91 L217.80,524.31 L218.15,524.08 L218.50,524.02 L218.85,524.11 L219.20,524.61 L219.55,524.32 L219.90,521.76 L220.25,521.25 L220.60,520.14 L220.95,519.50 L221.30,519.32 L221.65,518.46 L222.00,518.26 L222.35,517.98 L222.70,516.89 L223.05,516.52 L223.40,516.48 L223.75,515.37 L224.10,514.05 L224.45,513.51 L224.80,512.23 L225.15,511.16 L225.50,509.70 L225.85,508.12 L226.20,507.33 L226.55,506.34 L226.90,504.87 L227.25,503.04 L227.60,501.71 L227.95,499.94 L228.30,498.61 L228.65,496.29 L229.00,494.32 L229.35,492.91 L229.70,489.54 L230.05,488.64 L230.40,486.06 L230.75,483.43 L231.10,479.42 L231.45,473.38 L231.80,470.46 L232.15,452.67 L232.50,449.70 L232.85,438.15 L233.20,435.93 L233.55,435.69 L233.90,434.15 L234.25,432.82 L234.60,432.16 L234.95,428.25 L235.30,427.90 L235.65,427.99 L236.00,425.01 L236.35,426.59 L236.70,419.99 L237.05,415.64 L237.40,413.85 L237.75,426.21 L238.10,430.15 L238.45,432.61 L238.80,438.43 L239.15,441.25 L239.50,445.24 L239.85,448.16 L240.20,451.57 L240.55,456.04 L240.90,464.39 L241.25,468.10 L241.60,468.61 L241.95,473.45 L242.30,476.28 L242.65,478.29 L243.00,481.80 L243.35,484.44 L243.70,487.09 L244.05,489.21 L244.40,492.03 L244.75,494.85 L245.10,497.53 L245.45,501.41 L245.80,502.85 L246.15,504.68 L246.50,506.48 L246.85,508.79 L247.20,510.07 L247.55,511.92 L247.90,513.31 L248.25,515.11 L248.60,515.99 L248.95,517.09 L249.30,518.11 L249.65,519.59 L250.00,520.24 L250.35,520.90 L250.70,521.85 L251.05,522.10 L251.40,522.86 L251.75,523.27 L252.10,523.96 L252.45,524.14 L252.80,524.86 L253.15,524.83 L253.50,524.92 L253.85,525.06 L254.20,525.06 L254.55,525.37 L254.90,525.03 L255.25,524.86 L255.60,524.57 L255.95,524.64 L256.30,524.74 L256.65,525.29 L257.00,525.26 L257.35,525.16 L257.70,524.87 L258.05,524.57 L258.40,524.31 L258.75,524.76 L259.10,525.25 L259.45,525.09 L259.80,525.31 L260.15,525.08 L260.50,524.51 L260.85,525.09 L261.20,525.15 L261.55,525.37 L261.90,525.07 L262.25,525.22 L262.60,525.36 L262.95,525.55 L263.30,525.15 L263.65,524.82 L264.00,524.92 L264.35,524.52 L264.70,524.52 L265.05,524.82 L265.40,524.98 L265.75,524.89" fill="none" stroke="#000" stroke-width="1.25" stroke-linejoin="round" />
<path d="M303.00,526.10 L303.00,526.10 L303.35,526.10 L303.70,525.97 L304.05,525.67 L304.40,525.63 L304.75,525.36 L305.10,524.77 L305.45,524.96 L305.80,524.61 L306.15,523.97 L306.50,524.43 L306.85,523.68 L307.20,523.50 L307.55,523.39 L307.90,523.32 L308.25,522.68 L308.60,522.99 L308.95,522.93 L309.30,522.40 L309.65,522.49 L310.00,522.10 L310.35,522.11 L310.70,520.96 L311.05,520.19 L311.40,519.38 L311.75,517.88 L312.10,518.25 L312.45,516.78 L312.80,514.91 L313.15,514.00 L313.50,511.93 L313.85,509.69 L314.20,507.84 L314.55,506.76 L314.90,504.05 L315.25,503.51 L315.60,501.31 L315.95,497.90 L316.30,497.70 L316.65,492.90 L317.00,490.93 L317.35,490.65 L317.70,486.37 L318.05,484.60 L318.40,481.96 L318.75,478.41 L319.10,475.52 L319.45,472.46 L319.80,455.80 L320.15,441.10 L320.50,438.96 L320.85,433.58 L321.20,429.66 L321.55,428.84 L321.90,427.84 L322.25,422.52 L322.60,417.24 L322.95,414.88 L323.30,413.42 L323.65,420.47 L324.00,423.84 L324.35,426.68 L324.70,430.72 L325.05,434.23 L325.40,442.70 L325.75,453.60 L326.10,462.35 L326.45,469.54 L326.80,474.66 L327.15,482.27 L327.50,484.87 L327.85,491.85 L328.20,500.63 L328.55,506.49 L328.90,511.35 L329.25,515.89 L329.60,518.31 L329.95,521.22 L330.30,521.93 L330.65,522.60 L331.00,522.81 L331.35,523.17 L331.70,524.14 L332.05,523.89 L332.40,524.79 L332.75,525.01 L333.10,525.59 L333.45,525.87 L333.80,526.10 L333.80,526.10 Z" fill="#707070" />
<path d="M268.00,524.93 L268.35,524.97 L268.70,524.89 L269.05,524.21 L269.40,523.68 L269.75,524.15 L270.10,524.25 L270.45,524.62 L270.80,524.75 L271.15,524.58 L271.50,525.18 L271.85,525.14 L272.20,524.65 L272.55,524.52 L272.90,524.93 L273.25,524.44 L273.60,524.44 L273.95,524.88 L274.30,524.77 L274.65,524.77 L275.00,525.21 L275.35,524.79 L275.70,525.20 L276.05,525.22 L276.40,524.81 L276.75,524.79 L277.10,524.55 L277.45,524.47 L277.80,524.24 L278.15,524.24 L278.50,524.64 L278.85,523.99 L279.20,524.13 L279.55,525.06 L279.90,525.14 L280.25,525.01 L280.60,524.90 L280.95,524.97 L281.30,524.53 L281.65,524.02 L282.00,524.64 L282.35,524.26 L282.70,524.40 L283.05,523.62 L283.40,523.91 L283.75,523.74 L284.10,523.63 L284.45,522.45 L284.80,522.88 L285.15,523.42 L285.50,523.71 L285.85,522.91 L286.20,522.66 L286.55,522.89 L286.90,522.53 L287.25,522.18 L287.60,522.02 L287.95,522.69 L288.30,522.30 L288.65,522.36 L289.00,521.85 L289.35,521.23 L289.70,521.20 L290.05,520.94 L290.40,521.42 L290.75,521.33 L291.10,521.60 L291.45,522.43 L291.80,522.35 L292.15,521.94 L292.50,522.10 L292.85,520.93 L293.20,520.56 L293.55,520.83 L293.90,519.29 L294.25,519.66 L294.60,519.49 L294.95,519.24 L295.30,520.06 L295.65,520.54 L296.00,521.25 L296.35,522.30 L296.70,522.72 L297.05,523.71 L297.40,523.88 L297.75,523.78 L298.10,523.53 L298.45,524.54 L298.80,524.22 L299.15,524.46 L299.50,524.47 L299.85,524.47 L300.20,524.50 L300.55,524.39 L300.90,524.08 L301.25,524.27 L301.60,523.73 L301.95,522.78 L302.30,522.14 L302.65,521.04 L303.00,520.93 L303.35,519.66 L303.70,519.61 L304.05,518.50 L304.40,517.73 L304.75,517.42 L305.10,517.16 L305.45,515.80 L305.80,515.70 L306.15,514.54 L306.50,512.09 L306.85,511.19 L307.20,509.48 L307.55,508.22 L307.90,507.28 L308.25,505.23 L308.60,503.55 L308.95,501.61 L309.30,499.08 L309.65,494.32 L310.00,491.83 L310.35,488.87 L310.70,484.38 L311.05,480.23 L311.40,473.76 L311.75,470.27 L312.10,461.76 L312.45,454.61 L312.80,452.21 L313.15,448.45 L313.50,444.52 L313.85,441.97 L314.20,437.61 L314.55,437.78 L314.90,432.93 L315.25,431.70 L315.60,430.54 L315.95,426.69 L316.30,428.17 L316.65,423.18 L317.00,415.28 L317.35,416.40 L317.70,426.74 L318.05,434.05 L318.40,434.42 L318.75,438.23 L319.10,437.52 L319.45,441.83 L319.80,445.64 L320.15,452.20 L320.50,457.83 L320.85,469.96 L321.20,472.70 L321.55,477.65 L321.90,480.22 L322.25,484.44 L322.60,488.40 L322.95,492.36 L323.30,496.23 L323.65,499.84 L324.00,502.55 L324.35,504.62 L324.70,508.09 L325.05,510.74 L325.40,513.58 L325.75,515.28 L326.10,517.23 L326.45,517.75 L326.80,519.56 L327.15,520.81 L327.50,521.63 L327.85,522.04 L328.20,522.65 L328.55,522.81 L328.90,523.59 L329.25,524.15 L329.60,524.64 L329.95,525.00 L330.30,524.84 L330.65,524.98 L331.00,525.24 L331.35,525.09 L331.70,525.21 L332.05,524.82 L332.40,524.94 L332.75,524.87 L333.10,524.79 L333.45,524.91 L333.80,525.00 L334.15,525.26 L334.50,524.76 L334.85,525.26 L335.20,525.17 L335.55,524.87 L335.90,524.55 L336.25,524.54 L336.60,524.59 L336.95,525.07 L337.30,525.07 L337.65,525.19 L338.00,525.28 L338.35,524.91 L338.70,524.88 L339.05,524.52 L339.40,525.16 L339.75,525.17 L340.10,525.07 L340.45,524.98 L340.80,525.28" fill="none" stroke="#000" stroke-width="1.25" stroke-linejoin="round" />
<rect x="189.60" y="415.30" width="152.20" height="110.80" fill="none" stroke="#000" stroke-width="1.9"/>
<line x1="266.90" y1="415.30" x2="266.90" y2="526.10" stroke="#000" stroke-width="1.9"/>
<text x="191.60" y="423.80" font-size="6.4" textLength="29.43" lengthAdjust="spacingAndGlyphs" fill="#000" stroke="#000" stroke-width="0.15">untreated</text>
<text x="270.0" y="424.2" font-size="6.4" textLength="34.3" lengthAdjust="spacingAndGlyphs" stroke="#000" stroke-width="0.15">20 µM H<tspan font-size="4" dy="1.2">2</tspan><tspan dy="-1.2">O</tspan><tspan font-size="4" dy="1.2">2</tspan></text>
<text x="187.67" y="542.00" font-size="10" stroke="#000" stroke-width="0.5">10<tspan font-size="4.6" dx="0.5" dy="-5.40" stroke-width="0.25">0</tspan></text>
<text x="251.97" y="542.00" font-size="10" stroke="#000" stroke-width="0.5">10<tspan font-size="4.6" dx="0.5" dy="-5.40" stroke-width="0.25">4</tspan></text>
<text x="268.37" y="542.00" font-size="10" stroke="#000" stroke-width="0.5">10<tspan font-size="4.6" dx="0.5" dy="-5.40" stroke-width="0.25">0</tspan></text>
<text x="328.17" y="542.00" font-size="10" stroke="#000" stroke-width="0.5">10<tspan font-size="4.6" dx="0.5" dy="-5.40" stroke-width="0.25">4</tspan></text>
<text x="237.63" y="552.20" font-size="10" textLength="68.66" lengthAdjust="spacingAndGlyphs" fill="#000" stroke="#000" stroke-width="0.5">DCF FL-1 (nm)</text>
<text x="371.49" y="398.60" font-size="19.5" textLength="13.08" lengthAdjust="spacingAndGlyphs" fill="#000" stroke="#000" stroke-width="0.5">E</text>
<line x1="393.30" y1="414.50" x2="393.30" y2="527.85" stroke="#000" stroke-width="1.9"/>
<line x1="392.35" y1="526.90" x2="520.00" y2="526.90" stroke="#000" stroke-width="1.9"/>
<line x1="391.00" y1="526.90" x2="393.30" y2="526.90" stroke="#000" stroke-width="1.5"/>
<text x="384.15" y="530.50" font-size="10" textLength="5.56" lengthAdjust="spacingAndGlyphs" fill="#000" stroke="#000" stroke-width="0.5">0</text>
<line x1="391.00" y1="489.63" x2="393.30" y2="489.63" stroke="#000" stroke-width="1.5"/>
<text x="378.59" y="493.23" font-size="10" textLength="11.12" lengthAdjust="spacingAndGlyphs" fill="#000" stroke="#000" stroke-width="0.5">20</text>
<line x1="391.00" y1="452.37" x2="393.30" y2="452.37" stroke="#000" stroke-width="1.5"/>
<text x="378.59" y="455.97" font-size="10" textLength="11.12" lengthAdjust="spacingAndGlyphs" fill="#000" stroke="#000" stroke-width="0.5">40</text>
<line x1="391.00" y1="415.10" x2="393.30" y2="415.10" stroke="#000" stroke-width="1.5"/>
<text x="378.59" y="418.70" font-size="10" textLength="11.12" lengthAdjust="spacingAndGlyphs" fill="#000" stroke="#000" stroke-width="0.5">60</text>
<text x="0" y="0" font-size="9.4" textLength="72.99" lengthAdjust="spacingAndGlyphs" transform="translate(375.70 508.36) rotate(-90)" fill="#000" stroke="#000" stroke-width="0.5">% suppression</text>
<rect x="411.20" y="441.20" width="33.70" height="85.70" fill="#000"/>
<line x1="428.10" y1="441.20" x2="428.10" y2="439.30" stroke="#000" stroke-width="1.3"/>
<line x1="426.80" y1="439.30" x2="429.40" y2="439.30" stroke="#000" stroke-width="1.3"/>
<rect x="467.80" y="455.90" width="33.70" height="71.00" fill="#c6c6c6"/>
<line x1="484.80" y1="455.90" x2="484.80" y2="449.40" stroke="#000" stroke-width="1.3"/>
<line x1="483.50" y1="449.40" x2="486.10" y2="449.40" stroke="#000" stroke-width="1.3"/>
<text x="407.17" y="544.80" font-size="10" textLength="46.20" lengthAdjust="spacingAndGlyphs" fill="#000" stroke="#000" stroke-width="0.5">untreated</text>
<text x="461.22" y="544.80" font-size="10" textLength="7.37" lengthAdjust="spacingAndGlyphs" fill="#000" stroke="#000" stroke-width="0.5">H</text>
<text x="468.21" y="547.10" font-size="5.0" textLength="3.00" lengthAdjust="spacingAndGlyphs" fill="#000" stroke="#000" stroke-width="0.3">2</text>
<text x="471.21" y="544.80" font-size="10" textLength="7.39" lengthAdjust="spacingAndGlyphs" fill="#000" stroke="#000" stroke-width="0.5">O</text>
<text x="478.81" y="547.10" font-size="5.0" textLength="3.00" lengthAdjust="spacingAndGlyphs" fill="#000" stroke="#000" stroke-width="0.3">2</text>
<text x="483.26" y="544.80" font-size="10" textLength="34.44" lengthAdjust="spacingAndGlyphs" fill="#000" stroke="#000" stroke-width="0.5">(10 µM)</text>
<text x="1.63" y="576.00" font-size="19.5" textLength="11.56" lengthAdjust="spacingAndGlyphs" fill="#000" stroke="#000" stroke-width="0.5">F</text>
<text x="11.50" y="586.10" font-size="9.7" textLength="24.85" lengthAdjust="spacingAndGlyphs" fill="#000" stroke="#000" stroke-width="0.5">day 3</text>
<text x="11.49" y="714.80" font-size="9.7" textLength="25.38" lengthAdjust="spacingAndGlyphs" fill="#000" stroke="#000" stroke-width="0.5">day 5</text>
<rect x="42.20" y="605.00" width="467.10" height="79.50" fill="none" stroke="#000" stroke-width="1.8"/>
<line x1="153.80" y1="605.00" x2="153.80" y2="684.50" stroke="#000" stroke-width="1.8"/>
<line x1="272.70" y1="605.00" x2="272.70" y2="684.50" stroke="#000" stroke-width="1.8"/>
<line x1="392.30" y1="605.00" x2="392.30" y2="684.50" stroke="#000" stroke-width="1.8"/>
<text x="23.40" y="608.60" font-size="10" textLength="15.78" lengthAdjust="spacingAndGlyphs" fill="#000" stroke="#000" stroke-width="0.5">100</text>
<text x="33.82" y="688.10" font-size="10" textLength="5.38" lengthAdjust="spacingAndGlyphs" fill="#000" stroke="#000" stroke-width="0.5">0</text>
<text x="0" y="0" font-size="9.6" textLength="33.42" lengthAdjust="spacingAndGlyphs" transform="translate(29.20 661.45) rotate(-90)" fill="#000" stroke="#000" stroke-width="0.5">counts</text>
<line x1="41.50" y1="700.10" x2="500.00" y2="700.10" stroke="#000" stroke-width="1.9"/>
<path d="M498.8,695.1 L509.2,700.1 L498.8,705.1 Z" fill="#000" />
<text x="249.19" y="711.20" font-size="10" textLength="75.21" lengthAdjust="spacingAndGlyphs" fill="#000" stroke="#000" stroke-width="0.5">CFSE FL-1 (nm)</text>
<rect x="42.20" y="730.30" width="467.10" height="79.20" fill="none" stroke="#000" stroke-width="1.8"/>
<line x1="153.80" y1="730.30" x2="153.80" y2="809.50" stroke="#000" stroke-width="1.8"/>
<line x1="272.70" y1="730.30" x2="272.70" y2="809.50" stroke="#000" stroke-width="1.8"/>
<line x1="392.30" y1="730.30" x2="392.30" y2="809.50" stroke="#000" stroke-width="1.8"/>
<text x="23.40" y="733.90" font-size="10" textLength="15.78" lengthAdjust="spacingAndGlyphs" fill="#000" stroke="#000" stroke-width="0.5">100</text>
<text x="33.82" y="813.10" font-size="10" textLength="5.38" lengthAdjust="spacingAndGlyphs" fill="#000" stroke="#000" stroke-width="0.5">0</text>
<text x="0" y="0" font-size="9.6" textLength="33.42" lengthAdjust="spacingAndGlyphs" transform="translate(29.20 786.60) rotate(-90)" fill="#000" stroke="#000" stroke-width="0.5">counts</text>
<line x1="41.50" y1="824.90" x2="500.00" y2="824.90" stroke="#000" stroke-width="1.9"/>
<path d="M498.8,819.9 L509.2,824.9 L498.8,829.9 Z" fill="#000" />
<text x="249.19" y="836.30" font-size="10" textLength="75.21" lengthAdjust="spacingAndGlyphs" fill="#000" stroke="#000" stroke-width="0.5">CFSE FL-1 (nm)</text>
<line x1="78.10" y1="638.90" x2="129.90" y2="638.90" stroke="#000" stroke-width="1.8"/>
<line x1="78.10" y1="633.70" x2="78.10" y2="644.10" stroke="#000" stroke-width="2.1"/>
<line x1="129.90" y1="633.70" x2="129.90" y2="644.10" stroke="#000" stroke-width="2.1"/>
<text x="92.61" y="652.90" font-size="12.6" textLength="18.01" lengthAdjust="spacingAndGlyphs" fill="#000" stroke="#000" stroke-width="0.5">1%</text>
<line x1="196.10" y1="638.90" x2="249.20" y2="638.90" stroke="#000" stroke-width="1.8"/>
<line x1="196.10" y1="633.70" x2="196.10" y2="644.10" stroke="#000" stroke-width="2.1"/>
<line x1="249.20" y1="633.70" x2="249.20" y2="644.10" stroke="#000" stroke-width="2.1"/>
<text x="209.05" y="651.70" font-size="12.6" textLength="25.79" lengthAdjust="spacingAndGlyphs" fill="#000" stroke="#000" stroke-width="0.5">26%</text>
<line x1="316.10" y1="638.90" x2="368.30" y2="638.90" stroke="#000" stroke-width="1.8"/>
<line x1="316.10" y1="633.70" x2="316.10" y2="644.10" stroke="#000" stroke-width="2.1"/>
<line x1="368.30" y1="633.70" x2="368.30" y2="644.10" stroke="#000" stroke-width="2.1"/>
<text x="329.69" y="652.40" font-size="12.6" textLength="25.85" lengthAdjust="spacingAndGlyphs" fill="#000" stroke="#000" stroke-width="0.5">12%</text>
<line x1="434.70" y1="638.90" x2="486.50" y2="638.90" stroke="#000" stroke-width="1.8"/>
<line x1="434.70" y1="633.70" x2="434.70" y2="644.10" stroke="#000" stroke-width="2.1"/>
<line x1="486.50" y1="633.70" x2="486.50" y2="644.10" stroke="#000" stroke-width="2.1"/>
<text x="448.39" y="652.40" font-size="12.6" textLength="25.64" lengthAdjust="spacingAndGlyphs" fill="#000" stroke="#000" stroke-width="0.5">14%</text>
<line x1="63.10" y1="769.30" x2="116.60" y2="769.30" stroke="#000" stroke-width="1.8"/>
<line x1="63.10" y1="764.10" x2="63.10" y2="774.50" stroke="#000" stroke-width="2.1"/>
<line x1="116.60" y1="764.10" x2="116.60" y2="774.50" stroke="#000" stroke-width="2.1"/>
<text x="78.51" y="782.80" font-size="12.6" textLength="18.23" lengthAdjust="spacingAndGlyphs" fill="#000" stroke="#000" stroke-width="0.5">1%</text>
<line x1="178.70" y1="769.30" x2="234.20" y2="769.30" stroke="#000" stroke-width="1.8"/>
<line x1="178.70" y1="764.10" x2="178.70" y2="774.50" stroke="#000" stroke-width="2.1"/>
<line x1="234.20" y1="764.10" x2="234.20" y2="774.50" stroke="#000" stroke-width="2.1"/>
<text x="194.10" y="783.00" font-size="12.6" textLength="25.73" lengthAdjust="spacingAndGlyphs" fill="#000" stroke="#000" stroke-width="0.5">55%</text>
<line x1="298.10" y1="769.40" x2="354.20" y2="769.40" stroke="#000" stroke-width="1.8"/>
<line x1="298.10" y1="764.20" x2="298.10" y2="774.60" stroke="#000" stroke-width="2.1"/>
<line x1="354.20" y1="764.20" x2="354.20" y2="774.60" stroke="#000" stroke-width="2.1"/>
<text x="312.76" y="783.50" font-size="12.6" textLength="25.68" lengthAdjust="spacingAndGlyphs" fill="#000" stroke="#000" stroke-width="0.5">29%</text>
<line x1="416.70" y1="769.30" x2="471.90" y2="769.30" stroke="#000" stroke-width="1.8"/>
<line x1="416.70" y1="764.10" x2="416.70" y2="774.50" stroke="#000" stroke-width="2.1"/>
<line x1="471.90" y1="764.10" x2="471.90" y2="774.50" stroke="#000" stroke-width="2.1"/>
<text x="431.90" y="783.10" font-size="12.6" textLength="25.94" lengthAdjust="spacingAndGlyphs" fill="#000" stroke="#000" stroke-width="0.5">31%</text>
<path d="M85.00,684.50 L85.00,684.20 L85.30,683.97 L85.60,684.19 L85.90,683.88 L86.20,684.47 L86.50,683.93 L86.80,684.22 L87.10,684.50 L87.40,684.06 L87.70,684.50 L88.00,684.37 L88.30,684.19 L88.60,684.26 L88.90,684.22 L89.20,683.99 L89.50,684.50 L89.80,684.02 L90.10,684.50 L90.40,684.46 L90.70,683.63 L91.00,683.85 L91.30,684.07 L91.60,684.41 L91.90,683.75 L92.20,684.20 L92.50,683.93 L92.80,684.37 L93.10,684.50 L93.40,684.34 L93.70,683.72 L94.00,684.33 L94.30,683.97 L94.60,684.40 L94.90,684.00 L95.20,684.47 L95.50,684.50 L95.80,684.38 L96.10,684.38 L96.40,684.36 L96.70,684.10 L97.00,683.62 L97.30,684.50 L97.60,683.94 L97.90,683.42 L98.20,683.90 L98.50,683.87 L98.80,683.61 L99.10,684.50 L99.40,683.49 L99.70,684.43 L100.00,684.00 L100.30,683.55 L100.60,683.76 L100.90,683.87 L101.20,683.46 L101.50,684.24 L101.80,684.10 L102.10,684.50 L102.40,684.31 L102.70,684.25 L103.00,684.50 L103.30,684.43 L103.60,684.06 L103.90,683.93 L104.20,683.90 L104.50,684.27 L104.80,684.40 L105.10,684.28 L105.40,684.29 L105.70,683.23 L106.00,683.74 L106.30,683.30 L106.60,683.94 L106.90,683.93 L107.20,683.90 L107.50,684.29 L107.80,683.44 L108.10,684.11 L108.40,683.91 L108.70,683.41 L109.00,684.43 L109.30,683.18 L109.60,683.73 L109.90,683.82 L110.20,683.90 L110.50,684.43 L110.80,683.83 L111.10,684.29 L111.40,683.46 L111.70,683.72 L112.00,683.24 L112.30,683.93 L112.60,683.62 L112.90,684.12 L113.20,683.17 L113.50,683.66 L113.80,684.36 L114.10,683.00 L114.40,683.93 L114.70,683.95 L115.00,684.01 L115.30,683.76 L115.60,683.68 L115.90,684.34 L116.20,683.35 L116.50,683.96 L116.80,683.90 L117.10,683.99 L117.40,683.61 L117.70,682.92 L118.00,684.04 L118.30,683.30 L118.60,684.05 L118.90,684.35 L119.20,684.03 L119.50,683.46 L119.80,684.14 L120.10,683.42 L120.40,683.29 L120.70,683.66 L121.00,683.76 L121.30,683.80 L121.60,683.56 L121.90,683.30 L122.20,683.83 L122.50,683.11 L122.80,683.56 L123.10,682.51 L123.40,682.70 L123.70,683.95 L124.00,682.79 L124.30,683.11 L124.60,682.44 L124.90,683.70 L125.20,682.88 L125.50,682.34 L125.80,682.73 L126.10,683.93 L126.40,683.59 L126.70,682.13 L127.00,683.93 L127.30,682.20 L127.60,682.98 L127.90,682.94 L128.20,683.29 L128.50,681.66 L128.80,683.06 L129.10,681.53 L129.40,682.51 L129.70,682.84 L130.00,681.75 L130.30,679.69 L130.60,681.32 L130.90,680.25 L131.20,680.88 L131.50,680.75 L131.80,678.00 L132.10,676.23 L132.40,671.57 L132.70,667.93 L133.00,661.25 L133.30,656.18 L133.60,651.83 L133.90,643.47 L134.20,641.81 L134.50,635.15 L134.80,630.19 L135.10,623.22 L135.40,622.08 L135.70,618.46 L136.00,614.39 L136.30,615.12 L136.60,611.60 L136.90,606.59 L137.20,607.88 L137.50,615.78 L137.80,614.60 L138.10,619.85 L138.40,623.24 L138.70,627.74 L139.00,629.73 L139.30,632.47 L139.60,635.02 L139.90,640.41 L140.20,642.61 L140.50,643.25 L140.80,648.51 L141.10,651.33 L141.40,651.01 L141.70,651.00 L142.00,652.95 L142.30,659.60 L142.60,657.76 L142.90,662.85 L143.20,661.77 L143.50,663.52 L143.80,663.90 L144.10,667.96 L144.40,664.96 L144.70,667.62 L145.00,670.05 L145.30,669.31 L145.60,667.37 L145.90,668.11 L146.20,672.99 L146.50,670.98 L146.80,670.47 L147.10,673.33 L147.40,675.26 L147.70,672.07 L148.00,669.82 L148.30,668.70 L148.60,668.79 L148.90,670.18 L149.20,668.86 L149.50,674.59 L149.80,678.27 L150.10,682.87 L150.10,684.50 Z" fill="#000" />
<path d="M220.00,684.50 L220.00,684.20 L220.30,684.50 L220.60,683.62 L220.90,684.27 L221.20,683.94 L221.50,684.45 L221.80,683.72 L222.10,684.35 L222.40,683.24 L222.70,684.39 L223.00,683.47 L223.30,683.04 L223.60,683.23 L223.90,683.64 L224.20,682.56 L224.50,683.10 L224.80,682.36 L225.10,682.39 L225.40,682.50 L225.70,682.54 L226.00,682.56 L226.30,683.46 L226.60,682.61 L226.90,683.46 L227.20,683.46 L227.50,683.38 L227.80,683.42 L228.10,682.45 L228.40,682.58 L228.70,683.01 L229.00,682.06 L229.30,680.92 L229.60,681.80 L229.90,681.72 L230.20,680.65 L230.50,680.29 L230.80,680.42 L231.10,681.79 L231.40,682.03 L231.70,681.48 L232.00,680.68 L232.30,679.35 L232.60,678.98 L232.90,680.82 L233.20,680.17 L233.50,679.68 L233.80,678.42 L234.10,677.98 L234.40,677.92 L234.70,677.45 L235.00,679.01 L235.30,677.62 L235.60,678.36 L235.90,677.60 L236.20,677.85 L236.50,678.45 L236.80,678.38 L237.10,675.38 L237.40,678.74 L237.70,678.05 L238.00,677.67 L238.30,675.62 L238.60,677.65 L238.90,676.65 L239.20,673.45 L239.50,675.34 L239.80,675.82 L240.10,674.96 L240.40,675.35 L240.70,673.09 L241.00,673.46 L241.30,670.05 L241.60,672.69 L241.90,669.68 L242.20,672.28 L242.50,672.83 L242.80,669.75 L243.10,667.84 L243.40,667.34 L243.70,669.41 L244.00,667.24 L244.30,669.92 L244.60,668.96 L244.90,668.10 L245.20,668.68 L245.50,665.71 L245.80,666.99 L246.10,664.58 L246.40,666.84 L246.70,667.80 L247.00,664.70 L247.30,667.62 L247.60,669.36 L247.90,666.10 L248.20,665.69 L248.50,666.09 L248.80,669.24 L249.10,665.56 L249.40,669.30 L249.70,666.17 L250.00,666.89 L250.30,665.74 L250.60,663.72 L250.90,658.55 L251.20,658.55 L251.50,654.20 L251.80,653.20 L252.10,646.38 L252.40,641.89 L252.70,639.25 L253.00,633.77 L253.30,631.34 L253.60,631.03 L253.90,626.34 L254.20,622.85 L254.50,623.93 L254.80,617.72 L255.10,619.45 L255.40,621.38 L255.70,623.22 L256.00,626.19 L256.30,628.35 L256.60,632.18 L256.90,633.93 L257.20,634.41 L257.50,639.38 L257.80,641.61 L258.10,646.73 L258.40,645.59 L258.70,650.30 L259.00,655.92 L259.30,654.31 L259.60,660.68 L259.90,664.55 L260.20,664.72 L260.50,662.88 L260.80,667.54 L261.10,665.90 L261.40,668.19 L261.70,670.71 L262.00,669.12 L262.30,669.75 L262.60,670.08 L262.90,672.22 L263.20,671.98 L263.50,675.96 L263.80,676.91 L264.10,673.50 L264.40,676.06 L264.70,677.58 L265.00,677.80 L265.30,675.81 L265.60,677.29 L265.90,678.24 L266.20,677.86 L266.50,680.11 L266.80,680.02 L267.10,680.89 L267.40,678.92 L267.70,679.78 L268.00,682.39 L268.30,683.31 L268.60,683.95 L268.60,684.50 Z" fill="#000" />
<path d="M340.00,684.50 L340.00,684.20 L340.30,684.26 L340.60,684.49 L340.90,684.00 L341.20,684.23 L341.50,684.46 L341.80,683.91 L342.10,684.14 L342.40,684.09 L342.70,684.23 L343.00,683.01 L343.30,683.13 L343.60,684.34 L343.90,683.91 L344.20,683.08 L344.50,683.82 L344.80,682.80 L345.10,683.07 L345.40,683.16 L345.70,682.72 L346.00,682.49 L346.30,683.12 L346.60,683.34 L346.90,682.64 L347.20,683.26 L347.50,683.86 L347.80,681.88 L348.10,682.28 L348.40,681.80 L348.70,683.01 L349.00,682.36 L349.30,682.35 L349.60,681.85 L349.90,683.01 L350.20,682.92 L350.50,682.11 L350.80,682.97 L351.10,681.45 L351.40,681.66 L351.70,683.15 L352.00,681.22 L352.30,680.93 L352.60,680.56 L352.90,682.19 L353.20,682.53 L353.50,680.38 L353.80,681.48 L354.10,681.19 L354.40,680.93 L354.70,680.60 L355.00,680.95 L355.30,680.18 L355.60,682.39 L355.90,680.21 L356.20,681.14 L356.50,681.39 L356.80,681.38 L357.10,680.76 L357.40,680.77 L357.70,681.81 L358.00,678.99 L358.30,678.75 L358.60,678.77 L358.90,680.06 L359.20,678.58 L359.50,678.14 L359.80,676.58 L360.10,676.43 L360.40,678.29 L360.70,676.19 L361.00,676.87 L361.30,675.57 L361.60,675.58 L361.90,674.70 L362.20,677.75 L362.50,676.12 L362.80,675.16 L363.10,673.57 L363.40,676.31 L363.70,674.62 L364.00,672.13 L364.30,672.13 L364.60,675.98 L364.90,672.67 L365.20,673.03 L365.50,671.32 L365.80,675.21 L366.10,671.90 L366.40,673.44 L366.70,674.16 L367.00,673.11 L367.30,672.19 L367.60,671.50 L367.90,672.49 L368.20,668.46 L368.50,668.49 L368.80,668.44 L369.10,666.47 L369.40,663.38 L369.70,661.19 L370.00,657.15 L370.30,657.93 L370.60,654.30 L370.90,647.28 L371.20,641.70 L371.50,639.97 L371.80,635.33 L372.10,633.34 L372.40,628.62 L372.70,622.53 L373.00,618.61 L373.30,613.91 L373.60,610.40 L373.90,610.80 L374.20,613.88 L374.50,614.60 L374.80,620.58 L375.10,619.72 L375.40,624.02 L375.70,628.87 L376.00,629.51 L376.30,635.81 L376.60,637.73 L376.90,641.16 L377.20,643.20 L377.50,648.08 L377.80,652.44 L378.10,653.09 L378.40,658.32 L378.70,660.27 L379.00,659.11 L379.30,660.47 L379.60,663.03 L379.90,663.39 L380.20,664.65 L380.50,664.87 L380.80,666.31 L381.10,666.70 L381.40,666.58 L381.70,671.22 L382.00,671.85 L382.30,669.66 L382.60,674.82 L382.90,676.56 L383.20,674.01 L383.50,676.95 L383.80,673.90 L384.10,676.31 L384.40,677.48 L384.70,676.06 L385.00,675.96 L385.30,675.73 L385.60,677.88 L385.90,677.31 L386.20,678.41 L386.50,680.28 L386.80,680.51 L387.10,682.45 L387.40,683.54 L387.40,684.50 Z" fill="#000" />
<path d="M455.00,684.50 L455.00,684.20 L455.30,684.50 L455.60,683.65 L455.90,684.03 L456.20,683.87 L456.50,684.42 L456.80,683.56 L457.10,683.57 L457.40,683.69 L457.70,683.31 L458.00,684.10 L458.30,683.99 L458.60,683.66 L458.90,682.37 L459.20,684.03 L459.50,683.12 L459.80,683.18 L460.10,683.04 L460.40,682.96 L460.70,683.78 L461.00,682.42 L461.30,682.12 L461.60,683.86 L461.90,682.30 L462.20,682.31 L462.50,682.62 L462.80,683.57 L463.10,682.43 L463.40,681.62 L463.70,682.13 L464.00,682.02 L464.30,681.53 L464.60,683.44 L464.90,683.06 L465.20,681.70 L465.50,681.91 L465.80,683.56 L466.10,682.90 L466.40,682.29 L466.70,682.57 L467.00,683.49 L467.30,681.72 L467.60,682.62 L467.90,681.13 L468.20,682.22 L468.50,681.59 L468.80,681.82 L469.10,681.92 L469.40,681.97 L469.70,683.10 L470.00,681.76 L470.30,680.87 L470.60,682.89 L470.90,683.09 L471.20,682.86 L471.50,681.45 L471.80,681.57 L472.10,682.60 L472.40,680.75 L472.70,680.47 L473.00,681.50 L473.30,680.53 L473.60,681.02 L473.90,679.92 L474.20,682.19 L474.50,680.58 L474.80,679.91 L475.10,679.58 L475.40,679.29 L475.70,680.84 L476.00,680.74 L476.30,680.55 L476.60,680.90 L476.90,679.54 L477.20,678.54 L477.50,678.50 L477.80,677.20 L478.10,677.85 L478.40,677.94 L478.70,679.17 L479.00,677.60 L479.30,675.12 L479.60,676.69 L479.90,675.41 L480.20,677.23 L480.50,677.04 L480.80,675.51 L481.10,675.47 L481.40,673.89 L481.70,672.80 L482.00,675.11 L482.30,674.59 L482.60,673.11 L482.90,674.82 L483.20,674.13 L483.50,673.39 L483.80,670.23 L484.10,674.48 L484.40,669.92 L484.70,670.34 L485.00,669.82 L485.30,669.97 L485.60,672.52 L485.90,670.00 L486.20,666.00 L486.50,664.57 L486.80,665.55 L487.10,661.57 L487.40,659.25 L487.70,660.46 L488.00,655.11 L488.30,650.15 L488.60,648.29 L488.90,645.32 L489.20,637.50 L489.50,636.61 L489.80,630.68 L490.10,630.73 L490.40,625.23 L490.70,621.11 L491.00,617.63 L491.30,612.85 L491.60,609.18 L491.90,608.12 L492.20,610.56 L492.50,611.32 L492.80,613.58 L493.10,617.76 L493.40,622.67 L493.70,620.73 L494.00,627.64 L494.30,632.75 L494.60,633.28 L494.90,637.42 L495.20,642.11 L495.50,644.25 L495.80,646.98 L496.10,650.61 L496.40,655.94 L496.70,655.09 L497.00,658.92 L497.30,656.83 L497.60,661.33 L497.90,660.17 L498.20,662.40 L498.50,665.88 L498.80,668.70 L499.10,670.15 L499.40,670.76 L499.70,667.82 L500.00,671.10 L500.30,672.16 L500.60,670.44 L500.90,672.46 L501.20,671.92 L501.50,674.33 L501.80,675.34 L502.10,675.53 L502.40,673.73 L502.70,673.31 L503.00,674.97 L503.30,676.52 L503.60,675.14 L503.90,678.50 L504.20,679.09 L504.50,679.27 L504.80,679.01 L505.10,681.13 L505.40,680.34 L505.70,681.49 L506.00,683.79 L506.30,684.50 L506.30,684.50 Z" fill="#000" />
<path d="M100.00,809.50 L100.00,809.30 L100.30,809.28 L100.60,809.27 L100.90,809.25 L101.20,809.23 L101.50,809.21 L101.80,808.84 L102.10,809.50 L102.40,808.84 L102.70,809.37 L103.00,809.46 L103.30,809.36 L103.60,808.89 L103.90,808.92 L104.20,809.30 L104.50,809.50 L104.80,809.20 L105.10,809.05 L105.40,808.86 L105.70,808.86 L106.00,809.22 L106.30,808.85 L106.60,808.96 L106.90,809.07 L107.20,809.05 L107.50,808.29 L107.80,808.51 L108.10,809.11 L108.40,808.91 L108.70,809.25 L109.00,808.18 L109.30,808.40 L109.60,808.75 L109.90,809.08 L110.20,808.29 L110.50,809.08 L110.80,808.55 L111.10,808.38 L111.40,809.13 L111.70,808.05 L112.00,809.27 L112.30,808.31 L112.60,808.37 L112.90,808.10 L113.20,808.50 L113.50,809.07 L113.80,808.07 L114.10,808.37 L114.40,807.46 L114.70,806.39 L115.00,805.15 L115.30,806.16 L115.60,804.56 L115.90,804.05 L116.20,803.88 L116.50,801.17 L116.80,803.49 L117.10,803.20 L117.40,798.38 L117.70,798.85 L118.00,795.87 L118.30,791.44 L118.60,788.91 L118.90,784.60 L119.20,780.99 L119.50,775.88 L119.80,770.77 L120.10,765.44 L120.40,760.61 L120.70,753.53 L121.00,749.14 L121.30,745.94 L121.60,743.51 L121.90,741.46 L122.20,741.46 L122.50,744.53 L122.80,743.08 L123.10,742.19 L123.40,739.76 L123.70,739.56 L124.00,741.82 L124.30,742.53 L124.60,744.39 L124.90,742.74 L125.20,747.66 L125.50,746.48 L125.80,748.58 L126.10,751.07 L126.40,755.72 L126.70,755.96 L127.00,760.22 L127.30,761.01 L127.60,767.78 L127.90,767.27 L128.20,771.80 L128.50,774.89 L128.80,777.04 L129.10,777.79 L129.40,780.88 L129.70,779.67 L130.00,786.71 L130.30,786.58 L130.60,788.82 L130.90,789.12 L131.20,792.33 L131.50,794.67 L131.80,793.91 L132.10,792.85 L132.40,793.65 L132.70,797.54 L133.00,794.54 L133.30,796.54 L133.60,797.97 L133.90,795.89 L134.20,799.31 L134.50,798.03 L134.80,800.87 L135.10,797.49 L135.40,799.14 L135.70,799.36 L136.00,799.47 L136.30,800.73 L136.60,801.27 L136.90,801.65 L137.20,804.18 L137.50,802.45 L137.80,801.96 L138.10,805.11 L138.40,804.48 L138.70,803.66 L139.00,806.18 L139.30,806.02 L139.60,805.71 L139.90,806.19 L140.20,804.26 L140.50,806.13 L140.80,804.42 L141.10,806.06 L141.40,806.48 L141.70,804.85 L142.00,804.30 L142.30,805.34 L142.60,805.22 L142.90,804.37 L143.20,803.09 L143.50,804.93 L143.80,806.74 L144.10,805.82 L144.40,807.67 L144.70,809.28 L145.00,809.50 L145.00,809.50 Z" fill="#000" />
<path d="M196.50,809.50 L196.50,809.50 L196.80,805.68 L197.10,800.44 L197.40,799.84 L197.70,799.92 L198.00,800.97 L198.30,801.93 L198.60,798.88 L198.90,797.74 L199.20,798.30 L199.50,796.56 L199.80,799.33 L200.10,800.97 L200.40,796.80 L200.70,799.47 L201.00,796.51 L201.30,800.04 L201.60,797.98 L201.90,796.94 L202.20,794.98 L202.50,795.47 L202.80,799.13 L203.10,795.32 L203.40,797.36 L203.70,796.92 L204.00,796.18 L204.30,797.41 L204.60,794.25 L204.90,796.88 L205.20,793.62 L205.50,794.24 L205.80,796.45 L206.10,793.81 L206.40,793.43 L206.70,795.28 L207.00,796.02 L207.30,792.77 L207.60,796.19 L207.90,795.73 L208.20,792.74 L208.50,795.65 L208.80,792.74 L209.10,795.58 L209.40,795.86 L209.70,794.71 L210.00,794.58 L210.30,796.80 L210.60,793.73 L210.90,795.12 L211.20,795.30 L211.50,792.97 L211.80,797.34 L212.10,793.67 L212.40,796.79 L212.70,795.13 L213.00,792.79 L213.30,794.29 L213.60,795.72 L213.90,795.10 L214.20,797.41 L214.50,792.89 L214.80,796.87 L215.10,796.92 L215.40,793.21 L215.70,794.86 L216.00,792.39 L216.30,794.98 L216.60,795.45 L216.90,793.25 L217.20,795.68 L217.50,792.78 L217.80,791.70 L218.10,793.76 L218.40,794.99 L218.70,792.59 L219.00,792.04 L219.30,794.16 L219.60,794.11 L219.90,791.25 L220.20,791.29 L220.50,793.51 L220.80,794.25 L221.10,790.82 L221.40,793.24 L221.70,793.22 L222.00,789.93 L222.30,793.09 L222.60,791.97 L222.90,789.95 L223.20,790.03 L223.50,790.60 L223.80,792.84 L224.10,789.93 L224.40,792.09 L224.70,793.49 L225.00,791.89 L225.30,792.48 L225.60,789.46 L225.90,793.73 L226.20,793.61 L226.50,793.10 L226.80,789.83 L227.10,791.61 L227.40,792.37 L227.70,789.15 L228.00,789.08 L228.30,792.95 L228.60,791.16 L228.90,792.95 L229.20,790.32 L229.50,792.92 L229.80,791.72 L230.10,788.99 L230.40,789.15 L230.70,792.67 L231.00,788.26 L231.30,792.30 L231.60,790.29 L231.90,791.45 L232.20,787.27 L232.50,786.16 L232.80,790.35 L233.10,787.96 L233.40,786.31 L233.70,787.59 L234.00,784.87 L234.30,787.35 L234.60,786.64 L234.90,786.42 L235.20,783.91 L235.50,782.61 L235.80,780.35 L236.10,777.99 L236.40,778.85 L236.70,776.48 L237.00,775.30 L237.30,772.54 L237.60,774.28 L237.90,771.72 L238.20,767.68 L238.50,767.88 L238.80,766.16 L239.10,766.63 L239.40,762.60 L239.70,760.72 L240.00,760.27 L240.30,760.26 L240.60,757.71 L240.90,764.14 L241.20,761.35 L241.50,762.73 L241.80,765.58 L242.10,769.47 L242.40,772.14 L242.70,771.31 L243.00,771.58 L243.30,775.04 L243.60,777.01 L243.90,780.47 L244.20,780.67 L244.50,786.17 L244.80,789.21 L245.10,788.51 L245.40,791.87 L245.70,796.45 L246.00,793.23 L246.30,792.85 L246.60,796.99 L246.90,796.63 L247.20,797.14 L247.50,796.93 L247.80,799.56 L248.10,801.71 L248.40,801.78 L248.70,800.43 L249.00,800.44 L249.30,802.45 L249.60,805.00 L249.90,803.88 L250.20,804.15 L250.50,804.46 L250.80,805.78 L251.10,806.23 L251.40,803.70 L251.70,805.73 L252.00,805.80 L252.30,805.23 L252.60,806.16 L252.90,804.55 L253.20,805.87 L253.50,805.07 L253.80,805.04 L254.10,806.92 L254.40,808.04 L254.70,806.97 L255.00,807.58 L255.30,807.60 L255.60,807.17 L255.90,807.75 L256.20,808.69 L256.50,808.96 L256.80,809.25 L256.80,809.50 Z" fill="#000" />
<path d="M316.10,809.50 L316.10,809.50 L316.40,806.81 L316.70,807.35 L317.00,805.80 L317.30,806.94 L317.60,808.05 L317.90,806.12 L318.20,807.87 L318.50,806.84 L318.80,807.44 L319.10,804.85 L319.40,806.82 L319.70,806.07 L320.00,806.22 L320.30,805.42 L320.60,807.17 L320.90,806.06 L321.20,806.19 L321.50,805.95 L321.80,805.39 L322.10,806.18 L322.40,805.41 L322.70,805.13 L323.00,803.54 L323.30,804.88 L323.60,803.35 L323.90,804.79 L324.20,804.18 L324.50,805.35 L324.80,804.68 L325.10,803.82 L325.40,804.34 L325.70,803.20 L326.00,805.96 L326.30,805.46 L326.60,803.71 L326.90,803.01 L327.20,803.82 L327.50,804.50 L327.80,803.73 L328.10,805.56 L328.40,802.14 L328.70,803.20 L329.00,803.83 L329.30,801.97 L329.60,803.55 L329.90,803.92 L330.20,802.83 L330.50,805.48 L330.80,802.92 L331.10,802.95 L331.40,803.80 L331.70,802.45 L332.00,803.22 L332.30,801.93 L332.60,801.48 L332.90,803.95 L333.20,802.28 L333.50,801.76 L333.80,802.10 L334.10,802.70 L334.40,801.56 L334.70,803.75 L335.00,803.83 L335.30,804.81 L335.60,800.94 L335.90,802.02 L336.20,803.46 L336.50,804.14 L336.80,801.54 L337.10,804.05 L337.40,800.44 L337.70,802.50 L338.00,800.14 L338.30,800.61 L338.60,802.94 L338.90,801.66 L339.20,803.62 L339.50,803.65 L339.80,801.35 L340.10,801.64 L340.40,800.83 L340.70,799.76 L341.00,800.81 L341.30,802.46 L341.60,800.57 L341.90,802.31 L342.20,799.06 L342.50,798.82 L342.80,802.88 L343.10,799.20 L343.40,798.65 L343.70,802.15 L344.00,801.42 L344.30,801.95 L344.60,801.77 L344.90,798.00 L345.20,800.15 L345.50,800.39 L345.80,798.39 L346.10,800.00 L346.40,798.63 L346.70,798.35 L347.00,798.63 L347.30,799.34 L347.60,797.33 L347.90,800.02 L348.20,797.99 L348.50,797.98 L348.80,797.93 L349.10,798.55 L349.40,800.44 L349.70,799.90 L350.00,797.87 L350.30,795.69 L350.60,795.30 L350.90,799.11 L351.20,794.67 L351.50,795.86 L351.80,796.93 L352.10,794.21 L352.40,797.31 L352.70,798.44 L353.00,797.14 L353.30,794.59 L353.60,791.97 L353.90,788.73 L354.20,782.80 L354.50,780.16 L354.80,781.13 L355.10,778.14 L355.40,775.50 L355.70,772.03 L356.00,766.51 L356.30,762.42 L356.60,762.14 L356.90,756.55 L357.20,757.71 L357.50,754.34 L357.80,754.75 L358.10,753.49 L358.40,752.94 L358.70,749.21 L359.00,747.46 L359.30,744.38 L359.60,743.20 L359.90,740.60 L360.20,746.07 L360.50,743.80 L360.80,748.82 L361.10,746.98 L361.40,751.16 L361.70,751.67 L362.00,756.51 L362.30,755.18 L362.60,760.38 L362.90,762.50 L363.20,763.80 L363.50,766.69 L363.80,769.14 L364.10,773.37 L364.40,775.02 L364.70,780.14 L365.00,779.54 L365.30,782.15 L365.60,787.50 L365.90,787.77 L366.20,788.86 L366.50,792.15 L366.80,795.00 L367.10,791.77 L367.40,793.48 L367.70,794.46 L368.00,796.03 L368.30,798.60 L368.60,799.18 L368.90,798.66 L369.20,802.99 L369.50,800.48 L369.80,801.40 L370.10,804.07 L370.40,803.78 L370.70,803.82 L371.00,802.27 L371.30,802.54 L371.60,804.63 L371.90,803.44 L372.20,803.45 L372.50,804.89 L372.80,805.05 L373.10,804.99 L373.40,806.84 L373.70,805.32 L374.00,807.57 L374.30,806.12 L374.60,805.56 L374.90,806.81 L375.20,807.13 L375.50,807.68 L375.80,808.86 L375.80,809.50 Z" fill="#000" />
<path d="M434.30,809.50 L434.30,809.50 L434.60,805.66 L434.90,804.40 L435.20,805.78 L435.50,806.74 L435.80,803.71 L436.10,805.02 L436.40,804.66 L436.70,804.39 L437.00,806.33 L437.30,806.60 L437.60,806.01 L437.90,804.66 L438.20,806.17 L438.50,803.49 L438.80,804.77 L439.10,804.66 L439.40,803.23 L439.70,804.87 L440.00,804.21 L440.30,804.13 L440.60,803.14 L440.90,805.11 L441.20,803.16 L441.50,802.75 L441.80,805.72 L442.10,803.66 L442.40,804.71 L442.70,805.09 L443.00,805.18 L443.30,805.70 L443.60,802.87 L443.90,803.90 L444.20,802.67 L444.50,804.83 L444.80,802.94 L445.10,803.03 L445.40,802.94 L445.70,804.67 L446.00,803.71 L446.30,805.02 L446.60,804.06 L446.90,804.01 L447.20,804.29 L447.50,802.92 L447.80,803.09 L448.10,802.56 L448.40,802.15 L448.70,804.85 L449.00,803.59 L449.30,802.88 L449.60,803.47 L449.90,801.57 L450.20,804.38 L450.50,802.70 L450.80,801.80 L451.10,803.38 L451.40,802.42 L451.70,803.26 L452.00,800.70 L452.30,804.19 L452.60,803.80 L452.90,800.43 L453.20,802.05 L453.50,799.83 L453.80,799.84 L454.10,800.41 L454.40,799.70 L454.70,803.60 L455.00,801.42 L455.30,801.62 L455.60,802.29 L455.90,800.19 L456.20,801.06 L456.50,801.99 L456.80,801.42 L457.10,800.00 L457.40,798.71 L457.70,802.57 L458.00,802.94 L458.30,802.84 L458.60,798.67 L458.90,798.93 L459.20,798.85 L459.50,801.84 L459.80,799.69 L460.10,801.23 L460.40,801.21 L460.70,799.73 L461.00,798.19 L461.30,802.05 L461.60,799.80 L461.90,800.63 L462.20,796.85 L462.50,799.43 L462.80,800.33 L463.10,798.10 L463.40,798.28 L463.70,800.37 L464.00,798.45 L464.30,799.08 L464.60,797.52 L464.90,795.81 L465.20,798.12 L465.50,798.43 L465.80,798.85 L466.10,797.09 L466.40,799.05 L466.70,798.94 L467.00,795.10 L467.30,795.18 L467.60,798.54 L467.90,798.52 L468.20,798.23 L468.50,794.72 L468.80,798.74 L469.10,794.45 L469.40,794.42 L469.70,796.33 L470.00,796.22 L470.30,792.25 L470.60,795.13 L470.90,791.61 L471.20,792.55 L471.50,791.25 L471.80,791.40 L472.10,787.22 L472.40,782.59 L472.70,784.04 L473.00,779.07 L473.30,779.06 L473.60,772.24 L473.90,768.65 L474.20,766.28 L474.50,763.52 L474.80,758.13 L475.10,757.83 L475.40,756.71 L475.70,754.21 L476.00,752.39 L476.30,752.78 L476.60,748.99 L476.90,746.41 L477.20,745.63 L477.50,747.48 L477.80,744.42 L478.10,747.71 L478.40,749.10 L478.70,753.92 L479.00,754.35 L479.30,755.17 L479.60,756.32 L479.90,757.95 L480.20,758.88 L480.50,763.00 L480.80,766.77 L481.10,770.16 L481.40,771.04 L481.70,773.04 L482.00,776.92 L482.30,782.86 L482.60,784.53 L482.90,788.69 L483.20,788.23 L483.50,788.96 L483.80,791.97 L484.10,789.40 L484.40,790.63 L484.70,791.60 L485.00,792.65 L485.30,793.23 L485.60,798.38 L485.90,796.99 L486.20,798.26 L486.50,799.16 L486.80,798.42 L487.10,798.98 L487.40,798.78 L487.70,803.00 L488.00,800.24 L488.30,801.46 L488.60,804.70 L488.90,804.31 L489.20,804.73 L489.50,802.55 L489.80,804.19 L490.10,806.38 L490.40,805.56 L490.70,806.85 L491.00,805.72 L491.30,806.29 L491.60,807.87 L491.90,807.62 L492.20,806.54 L492.50,808.62 L492.80,807.71 L493.10,807.67 L493.40,809.15 L493.70,809.45 L494.00,809.50 L494.00,809.50 Z" fill="#000" />
<text x="63.04" y="850.00" font-size="10" textLength="68.58" lengthAdjust="spacingAndGlyphs" fill="#000" stroke="#000" stroke-width="0.5">no stimulation</text>
<text x="189.65" y="849.70" font-size="10" textLength="53.27" lengthAdjust="spacingAndGlyphs" fill="#000" stroke="#000" stroke-width="0.5">stimulation</text>
<text x="303.35" y="849.20" font-size="10" textLength="61.86" lengthAdjust="spacingAndGlyphs" fill="#000" stroke="#000" stroke-width="0.5">stimulation +</text>
<text x="320.49" y="860.40" font-size="10" textLength="25.49" lengthAdjust="spacingAndGlyphs" fill="#000" stroke="#000" stroke-width="0.5">Tregs</text>
<text x="422.45" y="849.10" font-size="10" textLength="60.94" lengthAdjust="spacingAndGlyphs" fill="#000" stroke="#000" stroke-width="0.5">stimulation +</text>
<text x="406.60" y="860.30" font-size="10" textLength="24.78" lengthAdjust="spacingAndGlyphs" fill="#000" stroke="#000" stroke-width="0.5">Tregs</text>
<text x="434.94" y="860.30" font-size="10" textLength="3.07" lengthAdjust="spacingAndGlyphs" fill="#000" stroke="#000" stroke-width="0.5">(</text>
<text x="438.32" y="860.30" font-size="10" textLength="7.37" lengthAdjust="spacingAndGlyphs" fill="#000" stroke="#000" stroke-width="0.5">H</text>
<text x="445.31" y="862.60" font-size="5.0" textLength="3.00" lengthAdjust="spacingAndGlyphs" fill="#000" stroke="#000" stroke-width="0.3">2</text>
<text x="448.31" y="860.30" font-size="10" textLength="7.39" lengthAdjust="spacingAndGlyphs" fill="#000" stroke="#000" stroke-width="0.5">O</text>
<text x="455.91" y="862.60" font-size="5.0" textLength="3.00" lengthAdjust="spacingAndGlyphs" fill="#000" stroke="#000" stroke-width="0.3">2</text>
<text x="459.18" y="860.30" font-size="10" textLength="37.53" lengthAdjust="spacingAndGlyphs" fill="#000" stroke="#000" stroke-width="0.5">treated)</text>
</svg>
</body></html>
